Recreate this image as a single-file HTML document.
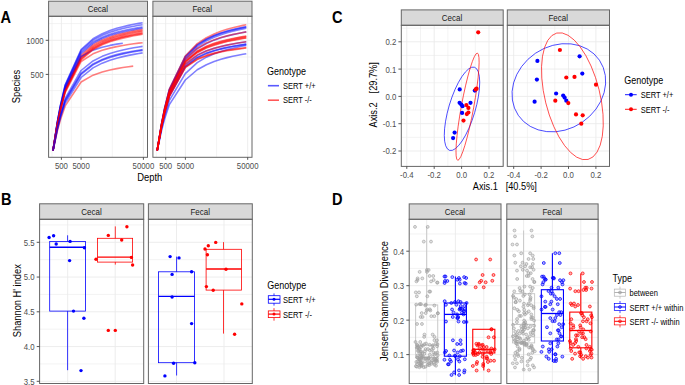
<!DOCTYPE html>
<html><head><meta charset="utf-8"><style>
html,body{margin:0;padding:0;background:#fff;width:685px;height:385px;overflow:hidden}
svg{display:block;font-family:"Liberation Sans",sans-serif}
</style></head><body>
<svg width="685" height="385" viewBox="0 0 685 385" font-family="Liberation Sans, sans-serif">
<rect width="685" height="385" fill="#fff"/>
<line x1="52" y1="16.3" x2="52" y2="157.3" stroke="#ebebeb" stroke-width="0.6" />
<line x1="71.3" y1="16.3" x2="71.3" y2="157.3" stroke="#ebebeb" stroke-width="0.6" />
<line x1="112.3" y1="16.3" x2="112.3" y2="157.3" stroke="#ebebeb" stroke-width="0.6" />
<line x1="61.4" y1="16.3" x2="61.4" y2="157.3" stroke="#ebebeb" stroke-width="0.9" />
<line x1="81.1" y1="16.3" x2="81.1" y2="157.3" stroke="#ebebeb" stroke-width="0.9" />
<line x1="143.4" y1="16.3" x2="143.4" y2="157.3" stroke="#ebebeb" stroke-width="0.9" />
<line x1="48.6" y1="23.6" x2="147.5" y2="23.6" stroke="#ebebeb" stroke-width="0.6" />
<line x1="48.6" y1="57" x2="147.5" y2="57" stroke="#ebebeb" stroke-width="0.6" />
<line x1="48.6" y1="90.6" x2="147.5" y2="90.6" stroke="#ebebeb" stroke-width="0.6" />
<line x1="48.6" y1="107.3" x2="147.5" y2="107.3" stroke="#ebebeb" stroke-width="0.6" />
<line x1="48.6" y1="40.3" x2="147.5" y2="40.3" stroke="#ebebeb" stroke-width="0.9" />
<line x1="48.6" y1="74.4" x2="147.5" y2="74.4" stroke="#ebebeb" stroke-width="0.9" />
<line x1="156.3" y1="16.3" x2="156.3" y2="157.3" stroke="#ebebeb" stroke-width="0.6" />
<line x1="175.6" y1="16.3" x2="175.6" y2="157.3" stroke="#ebebeb" stroke-width="0.6" />
<line x1="216.6" y1="16.3" x2="216.6" y2="157.3" stroke="#ebebeb" stroke-width="0.6" />
<line x1="165.7" y1="16.3" x2="165.7" y2="157.3" stroke="#ebebeb" stroke-width="0.9" />
<line x1="185.4" y1="16.3" x2="185.4" y2="157.3" stroke="#ebebeb" stroke-width="0.9" />
<line x1="247.7" y1="16.3" x2="247.7" y2="157.3" stroke="#ebebeb" stroke-width="0.9" />
<line x1="152.9" y1="23.6" x2="252" y2="23.6" stroke="#ebebeb" stroke-width="0.6" />
<line x1="152.9" y1="57" x2="252" y2="57" stroke="#ebebeb" stroke-width="0.6" />
<line x1="152.9" y1="90.6" x2="252" y2="90.6" stroke="#ebebeb" stroke-width="0.6" />
<line x1="152.9" y1="107.3" x2="252" y2="107.3" stroke="#ebebeb" stroke-width="0.6" />
<line x1="152.9" y1="40.3" x2="252" y2="40.3" stroke="#ebebeb" stroke-width="0.9" />
<line x1="152.9" y1="74.4" x2="252" y2="74.4" stroke="#ebebeb" stroke-width="0.9" />
<polyline points="53.00,150.50 57.28,122.24 60.44,105.15 65.18,84.78 81.10,49.50 93.04,38.77 102.20,33.67 109.92,30.53 116.72,28.34 122.87,26.68 128.53,25.36 133.79,24.28 138.73,23.36 142.60,22.70" fill="none" stroke="#0000ff" stroke-width="1.6" stroke-opacity="0.5" stroke-linejoin="round"/>
<polyline points="53.00,150.50 57.28,123.78 60.44,107.62 65.18,88.36 81.10,55.00 93.04,44.76 102.20,39.89 109.92,36.89 116.72,34.79 122.87,33.20 128.53,31.94 133.79,30.91 138.73,30.03 142.60,29.40" fill="none" stroke="#ff0000" stroke-width="1.6" stroke-opacity="0.5" stroke-linejoin="round"/>
<polyline points="53.00,150.50 57.28,122.52 60.44,105.60 65.18,85.43 81.10,50.50 93.04,40.15 102.20,35.24 109.92,32.23 116.72,30.12 122.87,28.53 128.53,27.26 133.79,26.22 138.73,25.33 142.60,24.70" fill="none" stroke="#0000ff" stroke-width="1.6" stroke-opacity="0.5" stroke-linejoin="round"/>
<polyline points="53.00,150.50 57.28,124.20 60.44,108.29 65.18,89.33 81.10,56.50 93.04,46.12 102.20,41.17 109.92,38.12 116.72,35.98 122.87,34.37 128.53,33.09 133.79,32.03 138.73,31.14 142.60,30.50" fill="none" stroke="#ff0000" stroke-width="1.6" stroke-opacity="0.5" stroke-linejoin="round"/>
<polyline points="53.00,150.50 57.28,122.94 60.44,106.27 65.18,86.41 81.10,52.00 93.04,41.96 102.20,37.21 109.92,34.29 116.72,32.25 122.87,30.70 128.53,29.48 133.79,28.47 138.73,27.61 142.60,27.00" fill="none" stroke="#0000ff" stroke-width="1.6" stroke-opacity="0.5" stroke-linejoin="round"/>
<polyline points="53.00,150.50 57.28,124.48 60.44,108.74 65.18,89.98 81.10,57.50 93.04,47.13 102.20,42.18 109.92,39.12 116.72,36.99 122.87,35.37 128.53,34.09 133.79,33.03 138.73,32.14 142.60,31.50" fill="none" stroke="#ff0000" stroke-width="1.6" stroke-opacity="0.5" stroke-linejoin="round"/>
<polyline points="53.00,150.50 57.28,123.36 60.44,106.95 65.18,87.38 81.10,53.50 93.04,43.36 102.20,38.55 109.92,35.59 116.72,33.52 122.87,31.95 128.53,30.71 133.79,29.69 138.73,28.82 142.60,28.20" fill="none" stroke="#0000ff" stroke-width="1.6" stroke-opacity="0.5" stroke-linejoin="round"/>
<polyline points="53.00,150.50 57.28,124.76 60.44,109.19 65.18,90.63 81.10,58.50 93.04,48.25 102.20,43.35 109.92,40.33 116.72,38.22 122.87,36.63 128.53,35.36 133.79,34.32 138.73,33.43 142.60,32.80" fill="none" stroke="#ff0000" stroke-width="1.6" stroke-opacity="0.5" stroke-linejoin="round"/>
<polyline points="53.00,150.50 57.28,124.20 60.44,108.29 65.18,89.33 81.10,56.50 93.04,50.13 102.20,47.21 109.92,45.41 116.72,44.15 122.80,43.20" fill="none" stroke="#0000ff" stroke-width="1.6" stroke-opacity="0.5" stroke-linejoin="round"/>
<polyline points="53.00,150.50 57.28,124.90 60.44,109.41 65.18,90.96 81.10,59.00 93.04,48.82 102.20,43.97 109.92,40.97 116.72,38.88 122.87,37.30 128.53,36.04 133.79,35.00 138.73,34.13 142.60,33.50" fill="none" stroke="#ff0000" stroke-width="1.6" stroke-opacity="0.5" stroke-linejoin="round"/>
<polyline points="53.00,150.50 57.28,128.11 60.44,114.57 65.18,98.43 81.10,70.50 93.04,60.94 102.20,56.34 109.92,53.50 116.72,51.51 122.87,50.00 128.53,48.81 133.79,47.83 138.73,47.00 142.60,46.40" fill="none" stroke="#0000ff" stroke-width="1.6" stroke-opacity="0.5" stroke-linejoin="round"/>
<polyline points="53.00,150.50 57.28,125.18 60.44,109.86 65.18,91.61 81.10,60.00 93.04,49.76 102.20,44.86 109.92,41.84 116.72,39.73 122.87,38.13 128.53,36.86 133.79,35.82 138.73,34.93 142.60,34.30" fill="none" stroke="#ff0000" stroke-width="1.6" stroke-opacity="0.5" stroke-linejoin="round"/>
<polyline points="53.00,150.50 57.28,128.89 60.44,115.83 65.18,100.25 81.10,73.30 93.04,63.91 102.20,59.39 109.92,56.59 116.72,54.63 122.87,53.15 128.53,51.97 133.79,51.01 138.73,50.19 142.60,49.60" fill="none" stroke="#0000ff" stroke-width="1.6" stroke-opacity="0.5" stroke-linejoin="round"/>
<polyline points="53.00,150.50 57.28,125.59 60.44,110.54 65.18,92.58 81.10,61.50 93.04,53.86 102.20,50.30 109.92,48.13 116.72,46.61 122.87,45.46 128.53,44.55 133.79,43.80 138.73,43.16 142.60,42.70" fill="none" stroke="#ff0000" stroke-width="1.6" stroke-opacity="0.5" stroke-linejoin="round"/>
<polyline points="53.00,150.50 57.28,129.17 60.44,116.28 65.18,100.90 81.10,74.30 93.04,64.85 102.20,60.28 109.92,57.46 116.72,55.48 122.87,53.98 128.53,52.80 133.79,51.82 138.73,50.99 142.60,50.40" fill="none" stroke="#0000ff" stroke-width="1.6" stroke-opacity="0.5" stroke-linejoin="round"/>
<polyline points="53.00,150.50 57.28,131.32 60.44,119.73 65.18,105.91 81.10,82.00 93.04,75.18 102.20,71.96 109.92,69.98 116.72,68.60 122.87,67.55 128.53,66.72 133.20,66.10" fill="none" stroke="#ff0000" stroke-width="1.6" stroke-opacity="0.5" stroke-linejoin="round"/>
<polyline points="53.00,150.50 57.28,130.07 60.44,117.71 65.18,102.98 81.10,77.50 93.04,67.84 102.20,63.13 109.92,60.21 116.72,58.16 122.87,56.61 128.53,55.38 133.79,54.37 138.73,53.51 142.60,52.90" fill="none" stroke="#0000ff" stroke-width="1.6" stroke-opacity="0.5" stroke-linejoin="round"/>
<polyline points="157.20,150.50 161.48,124.17 164.64,108.25 169.38,89.27 185.30,56.40 197.24,44.65 206.40,38.95 214.12,35.43 220.92,32.95 227.07,31.09 232.73,29.60 237.99,28.38 242.93,27.35 246.30,26.70" fill="none" stroke="#0000ff" stroke-width="1.6" stroke-opacity="0.5" stroke-linejoin="round"/>
<polyline points="157.20,150.50 161.48,124.34 164.64,108.52 169.38,89.66 185.30,57.00 197.24,45.15 206.40,39.39 214.12,35.83 220.92,33.33 227.07,31.44 232.73,29.93 237.99,28.70 242.93,27.66 246.30,27.00" fill="none" stroke="#0000ff" stroke-width="1.6" stroke-opacity="0.5" stroke-linejoin="round"/>
<polyline points="157.20,150.50 161.48,124.76 164.64,109.19 169.38,90.63 185.30,58.50 197.24,46.59 206.40,40.80 214.12,37.20 220.92,34.68 227.07,32.77 232.73,31.26 237.99,30.01 242.93,28.96 246.30,28.30" fill="none" stroke="#0000ff" stroke-width="1.6" stroke-opacity="0.5" stroke-linejoin="round"/>
<polyline points="157.20,150.50 161.48,125.18 164.64,109.86 169.38,91.61 185.30,60.00 197.24,48.86 206.40,43.48 214.12,40.14 220.92,37.81 227.07,36.04 232.73,34.64 237.99,33.49 242.93,32.51 246.30,31.90" fill="none" stroke="#0000ff" stroke-width="1.6" stroke-opacity="0.5" stroke-linejoin="round"/>
<polyline points="157.20,150.50 161.48,126.29 164.64,111.66 169.38,94.21 185.30,64.00 197.24,55.06 206.40,50.83 214.12,48.23 220.92,46.41 227.07,45.03 232.73,43.94 237.99,43.04 242.93,42.28 246.30,41.80" fill="none" stroke="#0000ff" stroke-width="1.6" stroke-opacity="0.5" stroke-linejoin="round"/>
<polyline points="157.20,150.50 161.48,126.85 164.64,112.55 169.38,95.50 185.30,66.00 197.24,57.18 206.40,53.01 214.12,50.44 220.92,48.65 227.07,47.29 232.73,46.21 237.99,45.32 242.93,44.57 246.30,44.10" fill="none" stroke="#0000ff" stroke-width="1.6" stroke-opacity="0.5" stroke-linejoin="round"/>
<polyline points="157.20,150.50 161.48,127.13 164.64,113.00 169.38,96.16 185.30,67.00 197.24,57.93 206.40,53.62 214.12,50.96 220.92,49.10 227.07,47.70 232.73,46.58 237.99,45.67 242.93,44.89 246.30,44.40" fill="none" stroke="#0000ff" stroke-width="1.6" stroke-opacity="0.5" stroke-linejoin="round"/>
<polyline points="157.20,150.50 161.48,128.98 164.64,115.96 169.38,100.44 185.30,73.60 197.24,62.59 206.40,57.17 214.12,53.79 220.92,51.41 227.07,49.62 232.73,48.19 237.99,47.01 242.93,46.02 246.30,45.40" fill="none" stroke="#0000ff" stroke-width="1.6" stroke-opacity="0.5" stroke-linejoin="round"/>
<polyline points="157.20,150.50 161.48,130.77 164.64,118.83 169.38,104.61 185.30,80.00 197.24,69.75 206.40,64.69 214.12,61.54 220.92,59.32 227.07,57.64 232.73,56.30 237.99,55.21 242.93,54.28 246.30,53.70" fill="none" stroke="#0000ff" stroke-width="1.6" stroke-opacity="0.5" stroke-linejoin="round"/>
<polyline points="157.20,150.50 161.48,124.06 164.64,108.07 169.38,89.00 185.30,56.00 197.24,43.67 206.40,37.67 214.12,33.94 220.92,31.32 227.07,29.34 232.73,27.77 237.99,26.48 242.93,25.39 246.30,24.70" fill="none" stroke="#ff0000" stroke-width="1.6" stroke-opacity="0.5" stroke-linejoin="round"/>
<polyline points="157.20,150.50 161.48,124.90 164.64,109.41 169.38,90.96 185.30,59.00 197.24,48.21 206.40,43.03 214.12,39.82 220.92,37.58 227.07,35.88 232.73,34.53 237.99,33.43 242.93,32.49 246.30,31.90" fill="none" stroke="#ff0000" stroke-width="1.6" stroke-opacity="0.5" stroke-linejoin="round"/>
<polyline points="157.20,150.50 161.48,125.45 164.64,110.31 169.38,92.25 185.30,61.00 197.24,51.03 206.40,46.28 214.12,43.35 220.92,41.29 227.07,39.74 232.73,38.51 237.99,37.50 242.93,36.64 246.30,36.10" fill="none" stroke="#ff0000" stroke-width="1.6" stroke-opacity="0.5" stroke-linejoin="round"/>
<polyline points="157.20,150.50 161.48,125.59 164.64,110.54 169.38,92.58 185.30,61.50 197.24,51.50 206.40,46.73 214.12,43.78 220.92,41.72 227.07,40.16 232.73,38.92 237.99,37.90 242.93,37.04 246.30,36.50" fill="none" stroke="#ff0000" stroke-width="1.6" stroke-opacity="0.5" stroke-linejoin="round"/>
<polyline points="157.20,150.50 161.48,125.73 164.64,110.76 169.38,92.91 185.30,62.00 197.24,52.23 206.40,47.57 214.12,44.70 220.92,42.69 227.07,41.17 232.73,39.96 237.99,38.97 242.93,38.13 246.30,37.60" fill="none" stroke="#ff0000" stroke-width="1.6" stroke-opacity="0.5" stroke-linejoin="round"/>
<polyline points="157.20,150.50 161.48,125.87 164.64,110.98 169.38,93.23 185.30,62.50 197.24,52.69 206.40,48.01 214.12,45.13 220.92,43.11 227.07,41.58 232.73,40.37 237.99,39.37 242.93,38.53 246.30,38.00" fill="none" stroke="#ff0000" stroke-width="1.6" stroke-opacity="0.5" stroke-linejoin="round"/>
<polyline points="157.20,150.50 161.48,126.43 164.64,111.88 169.38,94.53 185.30,64.50 197.24,55.38 206.40,51.05 214.12,48.38 220.92,46.52 227.07,45.11 232.73,43.99 237.99,43.07 242.93,42.29 246.30,41.80" fill="none" stroke="#ff0000" stroke-width="1.6" stroke-opacity="0.5" stroke-linejoin="round"/>
<polyline points="157.20,150.50 161.48,127.13 164.64,113.00 169.38,96.16 185.30,67.00 197.24,59.09 206.40,55.39 214.12,53.12 220.92,51.53 227.07,50.33 232.73,49.37 237.99,48.59 242.93,47.92 246.30,47.50" fill="none" stroke="#ff0000" stroke-width="1.6" stroke-opacity="0.5" stroke-linejoin="round"/>
<polyline points="157.20,150.50 161.48,127.27 164.64,113.23 169.38,96.48 185.30,67.50 197.24,59.60 206.40,55.89 214.12,53.62 220.92,52.03 227.07,50.83 232.73,49.87 237.99,49.09 242.93,48.42 246.30,48.00" fill="none" stroke="#ff0000" stroke-width="1.6" stroke-opacity="0.5" stroke-linejoin="round"/>
<rect x="48.6" y="1.2" width="98.9" height="15.1" fill="#d9d9d9" stroke="#666666" stroke-width="1" />
<text x="0" y="0" font-size="8" fill="#1a1a1a" text-anchor="middle" transform="translate(97.85 12.4) scale(1 1.16)" >Cecal</text>
<rect x="48.6" y="16.3" width="98.9" height="141" fill="none" stroke="#666666" stroke-width="1" />
<line x1="61.4" y1="157.3" x2="61.4" y2="159.8" stroke="#444444" stroke-width="0.9" />
<text x="0" y="0" font-size="7.8" fill="#4d4d4d" text-anchor="middle" transform="translate(61.4 168.6) scale(1 1.16)" >500</text>
<line x1="81.1" y1="157.3" x2="81.1" y2="159.8" stroke="#444444" stroke-width="0.9" />
<text x="0" y="0" font-size="7.8" fill="#4d4d4d" text-anchor="middle" transform="translate(81.1 168.6) scale(1 1.16)" >5000</text>
<line x1="143.4" y1="157.3" x2="143.4" y2="159.8" stroke="#444444" stroke-width="0.9" />
<text x="0" y="0" font-size="7.8" fill="#4d4d4d" text-anchor="middle" transform="translate(143.4 168.6) scale(1 1.16)" >50000</text>
<rect x="152.9" y="1.2" width="99.1" height="15.1" fill="#d9d9d9" stroke="#666666" stroke-width="1" />
<text x="0" y="0" font-size="8" fill="#1a1a1a" text-anchor="middle" transform="translate(202.25 12.4) scale(1 1.16)" >Fecal</text>
<rect x="152.9" y="16.3" width="99.1" height="141" fill="none" stroke="#666666" stroke-width="1" />
<line x1="165.7" y1="157.3" x2="165.7" y2="159.8" stroke="#444444" stroke-width="0.9" />
<text x="0" y="0" font-size="7.8" fill="#4d4d4d" text-anchor="middle" transform="translate(165.7 168.6) scale(1 1.16)" >500</text>
<line x1="185.4" y1="157.3" x2="185.4" y2="159.8" stroke="#444444" stroke-width="0.9" />
<text x="0" y="0" font-size="7.8" fill="#4d4d4d" text-anchor="middle" transform="translate(185.4 168.6) scale(1 1.16)" >5000</text>
<line x1="247.7" y1="157.3" x2="247.7" y2="159.8" stroke="#444444" stroke-width="0.9" />
<text x="0" y="0" font-size="7.8" fill="#4d4d4d" text-anchor="middle" transform="translate(247.7 168.6) scale(1 1.16)" >50000</text>
<line x1="45.7" y1="40.3" x2="48.6" y2="40.3" stroke="#444444" stroke-width="0.9" />
<text x="0" y="0" font-size="7.8" fill="#4d4d4d" text-anchor="end" transform="translate(43.6 43.7) scale(1 1.16)" >1000</text>
<line x1="45.7" y1="74.4" x2="48.6" y2="74.4" stroke="#444444" stroke-width="0.9" />
<text x="0" y="0" font-size="7.8" fill="#4d4d4d" text-anchor="end" transform="translate(43.6 77.8) scale(1 1.16)" >500</text>
<text x="0" y="0" font-size="9.4" fill="#000" text-anchor="middle" transform="translate(149.8 180.6) scale(1 1.16)" >Depth</text>
<text x="0" y="0" font-size="9.4" fill="#000" text-anchor="middle" transform="translate(20.2 86.6) rotate(-90) scale(1 1.16)" >Species</text>
<text x="0" y="0" font-size="14.6" fill="#000" text-anchor="start" font-weight="bold" transform="translate(0.4 23) scale(1 1.07)" >A</text>
<text x="0" y="0" font-size="9" fill="#000" text-anchor="start" transform="translate(267 74.7) scale(1 1.16)" >Genotype</text>
<line x1="267.9" y1="85.7" x2="279" y2="85.7" stroke="#0000ff" stroke-width="1.6" stroke-opacity="0.65" />
<line x1="267.9" y1="100.2" x2="279" y2="100.2" stroke="#ff0000" stroke-width="1.6" stroke-opacity="0.65" />
<text x="0" y="0" font-size="7.5" fill="#000" text-anchor="start" transform="translate(283 88.8) scale(1 1.16)" >SERT +/+</text>
<text x="0" y="0" font-size="7.5" fill="#000" text-anchor="start" transform="translate(283 103.4) scale(1 1.16)" >SERT -/-</text>
<line x1="420.5" y1="25.3" x2="420.5" y2="166.4" stroke="#ebebeb" stroke-width="0.6" />
<line x1="447.9" y1="25.3" x2="447.9" y2="166.4" stroke="#ebebeb" stroke-width="0.6" />
<line x1="475.3" y1="25.3" x2="475.3" y2="166.4" stroke="#ebebeb" stroke-width="0.6" />
<line x1="502.7" y1="25.3" x2="502.7" y2="166.4" stroke="#ebebeb" stroke-width="0.6" />
<line x1="406.8" y1="25.3" x2="406.8" y2="166.4" stroke="#ebebeb" stroke-width="0.9" />
<line x1="434.2" y1="25.3" x2="434.2" y2="166.4" stroke="#ebebeb" stroke-width="0.9" />
<line x1="461.6" y1="25.3" x2="461.6" y2="166.4" stroke="#ebebeb" stroke-width="0.9" />
<line x1="489" y1="25.3" x2="489" y2="166.4" stroke="#ebebeb" stroke-width="0.9" />
<line x1="401.3" y1="28.15" x2="503.2" y2="28.15" stroke="#ebebeb" stroke-width="0.6" />
<line x1="401.3" y1="55.45" x2="503.2" y2="55.45" stroke="#ebebeb" stroke-width="0.6" />
<line x1="401.3" y1="82.75" x2="503.2" y2="82.75" stroke="#ebebeb" stroke-width="0.6" />
<line x1="401.3" y1="110.05" x2="503.2" y2="110.05" stroke="#ebebeb" stroke-width="0.6" />
<line x1="401.3" y1="137.35" x2="503.2" y2="137.35" stroke="#ebebeb" stroke-width="0.6" />
<line x1="401.3" y1="41.8" x2="503.2" y2="41.8" stroke="#ebebeb" stroke-width="0.9" />
<line x1="401.3" y1="69.1" x2="503.2" y2="69.1" stroke="#ebebeb" stroke-width="0.9" />
<line x1="401.3" y1="96.4" x2="503.2" y2="96.4" stroke="#ebebeb" stroke-width="0.9" />
<line x1="401.3" y1="123.7" x2="503.2" y2="123.7" stroke="#ebebeb" stroke-width="0.9" />
<line x1="401.3" y1="151" x2="503.2" y2="151" stroke="#ebebeb" stroke-width="0.9" />
<line x1="527.4" y1="25.3" x2="527.4" y2="166.4" stroke="#ebebeb" stroke-width="0.6" />
<line x1="554.8" y1="25.3" x2="554.8" y2="166.4" stroke="#ebebeb" stroke-width="0.6" />
<line x1="582.2" y1="25.3" x2="582.2" y2="166.4" stroke="#ebebeb" stroke-width="0.6" />
<line x1="513.7" y1="25.3" x2="513.7" y2="166.4" stroke="#ebebeb" stroke-width="0.9" />
<line x1="541.1" y1="25.3" x2="541.1" y2="166.4" stroke="#ebebeb" stroke-width="0.9" />
<line x1="568.5" y1="25.3" x2="568.5" y2="166.4" stroke="#ebebeb" stroke-width="0.9" />
<line x1="595.9" y1="25.3" x2="595.9" y2="166.4" stroke="#ebebeb" stroke-width="0.9" />
<line x1="507.3" y1="28.15" x2="609.5" y2="28.15" stroke="#ebebeb" stroke-width="0.6" />
<line x1="507.3" y1="55.45" x2="609.5" y2="55.45" stroke="#ebebeb" stroke-width="0.6" />
<line x1="507.3" y1="82.75" x2="609.5" y2="82.75" stroke="#ebebeb" stroke-width="0.6" />
<line x1="507.3" y1="110.05" x2="609.5" y2="110.05" stroke="#ebebeb" stroke-width="0.6" />
<line x1="507.3" y1="137.35" x2="609.5" y2="137.35" stroke="#ebebeb" stroke-width="0.6" />
<line x1="507.3" y1="41.8" x2="609.5" y2="41.8" stroke="#ebebeb" stroke-width="0.9" />
<line x1="507.3" y1="69.1" x2="609.5" y2="69.1" stroke="#ebebeb" stroke-width="0.9" />
<line x1="507.3" y1="96.4" x2="609.5" y2="96.4" stroke="#ebebeb" stroke-width="0.9" />
<line x1="507.3" y1="123.7" x2="609.5" y2="123.7" stroke="#ebebeb" stroke-width="0.9" />
<line x1="507.3" y1="151" x2="609.5" y2="151" stroke="#ebebeb" stroke-width="0.9" />
<g fill="none" stroke-width="0.85" stroke-opacity="0.75">
<ellipse cx="462" cy="108.8" rx="43.4" ry="13.2" transform="rotate(-73.4 462 108.8)" stroke="#0000ff"/>
<ellipse cx="467.55" cy="106.7" rx="54.5" ry="6.19" transform="rotate(-79.6 467.55 106.7)" stroke="#ff0000"/>
<ellipse cx="558.85" cy="87.75" rx="49.06" ry="41.68" transform="rotate(-34.2 558.85 87.75)" stroke="#0000ff"/>
<ellipse cx="572.4" cy="96.25" rx="65.1" ry="27.45" transform="rotate(76.1 572.4 96.25)" stroke="#ff0000"/>
</g>
<circle cx="459.70" cy="89.40" r="2.1" fill="#0000ff" />
<circle cx="474.80" cy="90.60" r="2.1" fill="#0000ff" />
<circle cx="459.60" cy="102.80" r="2.1" fill="#0000ff" />
<circle cx="461.30" cy="104.50" r="2.1" fill="#0000ff" />
<circle cx="462.50" cy="106.20" r="2.1" fill="#0000ff" />
<circle cx="470.50" cy="102.80" r="2.1" fill="#0000ff" />
<circle cx="462.10" cy="112.90" r="2.1" fill="#0000ff" />
<circle cx="454.60" cy="132.60" r="2.1" fill="#0000ff" />
<circle cx="453.10" cy="138.10" r="2.1" fill="#0000ff" />
<circle cx="537.40" cy="60.90" r="2.1" fill="#0000ff" />
<circle cx="536.90" cy="79.60" r="2.1" fill="#0000ff" />
<circle cx="579.60" cy="56.30" r="2.1" fill="#0000ff" />
<circle cx="582.30" cy="73.60" r="2.1" fill="#0000ff" />
<circle cx="534.60" cy="101.70" r="2.1" fill="#0000ff" />
<circle cx="556.10" cy="93.50" r="2.1" fill="#0000ff" />
<circle cx="563.20" cy="95.50" r="2.1" fill="#0000ff" />
<circle cx="564.60" cy="97.60" r="2.1" fill="#0000ff" />
<circle cx="566.30" cy="100.70" r="2.1" fill="#0000ff" />
<circle cx="478.20" cy="32.30" r="2.1" fill="#ff0000" />
<circle cx="475.70" cy="89.40" r="2.1" fill="#ff0000" />
<circle cx="476.60" cy="88.70" r="2.1" fill="#ff0000" />
<circle cx="466.40" cy="105.10" r="2.1" fill="#ff0000" />
<circle cx="468.40" cy="107.90" r="2.1" fill="#ff0000" />
<circle cx="468.40" cy="112.50" r="2.1" fill="#ff0000" />
<circle cx="466.80" cy="114.10" r="2.1" fill="#ff0000" />
<circle cx="463.50" cy="120.60" r="2.1" fill="#ff0000" />
<circle cx="559.90" cy="50.00" r="2.1" fill="#ff0000" />
<circle cx="566.30" cy="77.50" r="2.1" fill="#ff0000" />
<circle cx="574.50" cy="76.90" r="2.1" fill="#ff0000" />
<circle cx="596.00" cy="84.70" r="2.1" fill="#ff0000" />
<circle cx="555.30" cy="100.70" r="2.1" fill="#ff0000" />
<circle cx="568.30" cy="103.10" r="2.1" fill="#ff0000" />
<circle cx="576.00" cy="114.40" r="2.1" fill="#ff0000" />
<circle cx="582.70" cy="115.30" r="2.1" fill="#ff0000" />
<circle cx="581.30" cy="123.70" r="2.1" fill="#ff0000" />
<rect x="401.3" y="9.9" width="101.9" height="15.4" fill="#d9d9d9" stroke="#666666" stroke-width="1" />
<text x="0" y="0" font-size="8" fill="#1a1a1a" text-anchor="middle" transform="translate(452.05 21.1) scale(1 1.16)" >Cecal</text>
<rect x="401.3" y="25.3" width="101.9" height="141.1" fill="none" stroke="#666666" stroke-width="1" />
<line x1="406.8" y1="166.4" x2="406.8" y2="168.9" stroke="#444444" stroke-width="0.9" />
<text x="0" y="0" font-size="7.8" fill="#4d4d4d" text-anchor="middle" transform="translate(406.8 177.7) scale(1 1.16)" >-0.4</text>
<line x1="434.2" y1="166.4" x2="434.2" y2="168.9" stroke="#444444" stroke-width="0.9" />
<text x="0" y="0" font-size="7.8" fill="#4d4d4d" text-anchor="middle" transform="translate(434.2 177.7) scale(1 1.16)" >-0.2</text>
<line x1="461.6" y1="166.4" x2="461.6" y2="168.9" stroke="#444444" stroke-width="0.9" />
<text x="0" y="0" font-size="7.8" fill="#4d4d4d" text-anchor="middle" transform="translate(461.6 177.7) scale(1 1.16)" >0.0</text>
<line x1="489" y1="166.4" x2="489" y2="168.9" stroke="#444444" stroke-width="0.9" />
<text x="0" y="0" font-size="7.8" fill="#4d4d4d" text-anchor="middle" transform="translate(489 177.7) scale(1 1.16)" >0.2</text>
<rect x="507.3" y="9.9" width="102.2" height="15.4" fill="#d9d9d9" stroke="#666666" stroke-width="1" />
<text x="0" y="0" font-size="8" fill="#1a1a1a" text-anchor="middle" transform="translate(558.2 21.1) scale(1 1.16)" >Fecal</text>
<rect x="507.3" y="25.3" width="102.2" height="141.1" fill="none" stroke="#666666" stroke-width="1" />
<line x1="513.7" y1="166.4" x2="513.7" y2="168.9" stroke="#444444" stroke-width="0.9" />
<text x="0" y="0" font-size="7.8" fill="#4d4d4d" text-anchor="middle" transform="translate(513.7 177.7) scale(1 1.16)" >-0.4</text>
<line x1="541.1" y1="166.4" x2="541.1" y2="168.9" stroke="#444444" stroke-width="0.9" />
<text x="0" y="0" font-size="7.8" fill="#4d4d4d" text-anchor="middle" transform="translate(541.1 177.7) scale(1 1.16)" >-0.2</text>
<line x1="568.5" y1="166.4" x2="568.5" y2="168.9" stroke="#444444" stroke-width="0.9" />
<text x="0" y="0" font-size="7.8" fill="#4d4d4d" text-anchor="middle" transform="translate(568.5 177.7) scale(1 1.16)" >0.0</text>
<line x1="595.9" y1="166.4" x2="595.9" y2="168.9" stroke="#444444" stroke-width="0.9" />
<text x="0" y="0" font-size="7.8" fill="#4d4d4d" text-anchor="middle" transform="translate(595.9 177.7) scale(1 1.16)" >0.2</text>
<line x1="398.4" y1="41.8" x2="401.3" y2="41.8" stroke="#444444" stroke-width="0.9" />
<text x="0" y="0" font-size="7.8" fill="#4d4d4d" text-anchor="end" transform="translate(396.3 45.2) scale(1 1.16)" >0.2</text>
<line x1="398.4" y1="69.1" x2="401.3" y2="69.1" stroke="#444444" stroke-width="0.9" />
<text x="0" y="0" font-size="7.8" fill="#4d4d4d" text-anchor="end" transform="translate(396.3 72.5) scale(1 1.16)" >0.1</text>
<line x1="398.4" y1="96.4" x2="401.3" y2="96.4" stroke="#444444" stroke-width="0.9" />
<text x="0" y="0" font-size="7.8" fill="#4d4d4d" text-anchor="end" transform="translate(396.3 99.8) scale(1 1.16)" >0.0</text>
<line x1="398.4" y1="123.7" x2="401.3" y2="123.7" stroke="#444444" stroke-width="0.9" />
<text x="0" y="0" font-size="7.8" fill="#4d4d4d" text-anchor="end" transform="translate(396.3 127.1) scale(1 1.16)" >-0.1</text>
<line x1="398.4" y1="151" x2="401.3" y2="151" stroke="#444444" stroke-width="0.9" />
<text x="0" y="0" font-size="7.8" fill="#4d4d4d" text-anchor="end" transform="translate(396.3 154.4) scale(1 1.16)" >-0.2</text>
<text x="0" y="0" font-size="9.2" fill="#000" text-anchor="start" transform="translate(472.8 189.9) scale(1 1.16)" >Axis.1</text>
<text x="0" y="0" font-size="9.2" fill="#000" text-anchor="start" transform="translate(505.7 189.9) scale(1 1.16)" >[40.5%]</text>
<text x="0" y="0" font-size="9.2" fill="#000" text-anchor="start" transform="translate(377.2 127.4) rotate(-90) scale(1 1.16)" >Axis.2</text>
<text x="0" y="0" font-size="9.2" fill="#000" text-anchor="start" transform="translate(377.2 93.4) rotate(-90) scale(1 1.16)" >[29.7%]</text>
<text x="0" y="0" font-size="14.6" fill="#000" text-anchor="start" font-weight="bold" transform="translate(331.9 23.1) scale(1 1.07)" >C</text>
<text x="0" y="0" font-size="9" fill="#000" text-anchor="start" transform="translate(624.3 83.6) scale(1 1.16)" >Genotype</text>
<line x1="625" y1="94.7" x2="636.7" y2="94.7" stroke="#0000ff" stroke-width="0.9" />
<circle cx="631" cy="94.7" r="2" fill="#0000ff"/>
<line x1="625" y1="109.3" x2="636.7" y2="109.3" stroke="#ff0000" stroke-width="0.9" />
<circle cx="631" cy="109.3" r="2" fill="#ff0000"/>
<text x="0" y="0" font-size="7.5" fill="#000" text-anchor="start" transform="translate(640.7 97.9) scale(1 1.16)" >SERT +/+</text>
<text x="0" y="0" font-size="7.5" fill="#000" text-anchor="start" transform="translate(640.7 112.5) scale(1 1.16)" >SERT -/-</text>
<line x1="67.7" y1="219.3" x2="67.7" y2="383.5" stroke="#ebebeb" stroke-width="0.9" />
<line x1="115.2" y1="219.3" x2="115.2" y2="383.5" stroke="#ebebeb" stroke-width="0.9" />
<line x1="39.6" y1="224.93" x2="143.7" y2="224.93" stroke="#ebebeb" stroke-width="0.6" />
<line x1="39.6" y1="259.68" x2="143.7" y2="259.68" stroke="#ebebeb" stroke-width="0.6" />
<line x1="39.6" y1="294.43" x2="143.7" y2="294.43" stroke="#ebebeb" stroke-width="0.6" />
<line x1="39.6" y1="329.18" x2="143.7" y2="329.18" stroke="#ebebeb" stroke-width="0.6" />
<line x1="39.6" y1="363.93" x2="143.7" y2="363.93" stroke="#ebebeb" stroke-width="0.6" />
<line x1="39.6" y1="242.3" x2="143.7" y2="242.3" stroke="#ebebeb" stroke-width="0.9" />
<line x1="39.6" y1="277.05" x2="143.7" y2="277.05" stroke="#ebebeb" stroke-width="0.9" />
<line x1="39.6" y1="311.8" x2="143.7" y2="311.8" stroke="#ebebeb" stroke-width="0.9" />
<line x1="39.6" y1="346.55" x2="143.7" y2="346.55" stroke="#ebebeb" stroke-width="0.9" />
<line x1="39.6" y1="381.3" x2="143.7" y2="381.3" stroke="#ebebeb" stroke-width="0.9" />
<line x1="176.5" y1="219.3" x2="176.5" y2="383.5" stroke="#ebebeb" stroke-width="0.9" />
<line x1="224" y1="219.3" x2="224" y2="383.5" stroke="#ebebeb" stroke-width="0.9" />
<line x1="148.4" y1="224.93" x2="252.3" y2="224.93" stroke="#ebebeb" stroke-width="0.6" />
<line x1="148.4" y1="259.68" x2="252.3" y2="259.68" stroke="#ebebeb" stroke-width="0.6" />
<line x1="148.4" y1="294.43" x2="252.3" y2="294.43" stroke="#ebebeb" stroke-width="0.6" />
<line x1="148.4" y1="329.18" x2="252.3" y2="329.18" stroke="#ebebeb" stroke-width="0.6" />
<line x1="148.4" y1="363.93" x2="252.3" y2="363.93" stroke="#ebebeb" stroke-width="0.6" />
<line x1="148.4" y1="242.3" x2="252.3" y2="242.3" stroke="#ebebeb" stroke-width="0.9" />
<line x1="148.4" y1="277.05" x2="252.3" y2="277.05" stroke="#ebebeb" stroke-width="0.9" />
<line x1="148.4" y1="311.8" x2="252.3" y2="311.8" stroke="#ebebeb" stroke-width="0.9" />
<line x1="148.4" y1="346.55" x2="252.3" y2="346.55" stroke="#ebebeb" stroke-width="0.9" />
<line x1="148.4" y1="381.3" x2="252.3" y2="381.3" stroke="#ebebeb" stroke-width="0.9" />
<g stroke="#0000ff" fill="none">
<line x1="67.60" y1="235.30" x2="67.60" y2="241.40" stroke-width="0.8"/>
<line x1="67.60" y1="311.10" x2="67.60" y2="370.20" stroke-width="0.8"/>
<rect x="49.70" y="241.40" width="35.80" height="69.70" stroke-width="0.8"/>
<line x1="49.70" y1="247.30" x2="85.50" y2="247.30" stroke-width="1.4"/>
</g>
<g stroke="#ff0000" fill="none">
<line x1="115.30" y1="226.40" x2="115.30" y2="238.30" stroke-width="0.8"/>
<line x1="115.30" y1="262.10" x2="115.30" y2="264.60" stroke-width="0.8"/>
<rect x="97.40" y="238.30" width="35.20" height="23.80" stroke-width="0.8"/>
<line x1="97.40" y1="257.10" x2="132.60" y2="257.10" stroke-width="1.4"/>
</g>
<g stroke="#0000ff" fill="none">
<line x1="176.60" y1="256.60" x2="176.60" y2="271.80" stroke-width="0.8"/>
<line x1="176.60" y1="362.70" x2="176.60" y2="375.50" stroke-width="0.8"/>
<rect x="158.40" y="271.80" width="36.10" height="90.90" stroke-width="0.8"/>
<line x1="158.40" y1="296.40" x2="194.50" y2="296.40" stroke-width="1.4"/>
</g>
<g stroke="#ff0000" fill="none">
<line x1="223.50" y1="242.10" x2="223.50" y2="249.30" stroke-width="0.8"/>
<line x1="223.50" y1="290.10" x2="223.50" y2="333.60" stroke-width="0.8"/>
<rect x="206.10" y="249.30" width="35.30" height="40.80" stroke-width="0.8"/>
<line x1="206.10" y1="269.00" x2="241.40" y2="269.00" stroke-width="1.4"/>
</g>
<circle cx="49.10" cy="237.50" r="1.7" fill="#0000ff" />
<circle cx="53.60" cy="235.80" r="1.7" fill="#0000ff" />
<circle cx="56.20" cy="244.00" r="1.7" fill="#0000ff" />
<circle cx="70.10" cy="241.40" r="1.7" fill="#0000ff" />
<circle cx="84.40" cy="247.70" r="1.7" fill="#0000ff" />
<circle cx="69.60" cy="260.60" r="1.7" fill="#0000ff" />
<circle cx="73.50" cy="311.10" r="1.7" fill="#0000ff" />
<circle cx="83.90" cy="318.30" r="1.7" fill="#0000ff" />
<circle cx="81.00" cy="370.60" r="1.7" fill="#0000ff" />
<circle cx="170.10" cy="256.60" r="1.7" fill="#0000ff" />
<circle cx="179.00" cy="257.90" r="1.7" fill="#0000ff" />
<circle cx="172.10" cy="274.40" r="1.7" fill="#0000ff" />
<circle cx="191.60" cy="271.80" r="1.7" fill="#0000ff" />
<circle cx="172.10" cy="297.00" r="1.7" fill="#0000ff" />
<circle cx="191.60" cy="323.60" r="1.7" fill="#0000ff" />
<circle cx="173.60" cy="363.30" r="1.7" fill="#0000ff" />
<circle cx="194.80" cy="362.70" r="1.7" fill="#0000ff" />
<circle cx="164.90" cy="375.90" r="1.7" fill="#0000ff" />
<circle cx="108.30" cy="235.40" r="1.7" fill="#ff0000" />
<circle cx="126.90" cy="226.70" r="1.7" fill="#ff0000" />
<circle cx="121.70" cy="240.00" r="1.7" fill="#ff0000" />
<circle cx="96.00" cy="259.30" r="1.7" fill="#ff0000" />
<circle cx="131.40" cy="257.40" r="1.7" fill="#ff0000" />
<circle cx="132.60" cy="265.00" r="1.7" fill="#ff0000" />
<circle cx="108.30" cy="330.40" r="1.7" fill="#ff0000" />
<circle cx="115.30" cy="330.40" r="1.7" fill="#ff0000" />
<circle cx="215.70" cy="242.40" r="1.7" fill="#ff0000" />
<circle cx="208.30" cy="245.70" r="1.7" fill="#ff0000" />
<circle cx="205.00" cy="249.00" r="1.7" fill="#ff0000" />
<circle cx="207.40" cy="254.70" r="1.7" fill="#ff0000" />
<circle cx="226.00" cy="269.30" r="1.7" fill="#ff0000" />
<circle cx="206.40" cy="286.60" r="1.7" fill="#ff0000" />
<circle cx="213.20" cy="290.30" r="1.7" fill="#ff0000" />
<circle cx="241.80" cy="303.90" r="1.7" fill="#ff0000" />
<circle cx="234.60" cy="334.30" r="1.7" fill="#ff0000" />
<rect x="39.6" y="203.8" width="104.1" height="15.5" fill="#d9d9d9" stroke="#666666" stroke-width="1" />
<text x="0" y="0" font-size="8" fill="#1a1a1a" text-anchor="middle" transform="translate(91.45 215) scale(1 1.16)" >Cecal</text>
<rect x="39.6" y="219.3" width="104.1" height="164.2" fill="none" stroke="#666666" stroke-width="1" />
<rect x="148.4" y="203.8" width="103.9" height="15.5" fill="#d9d9d9" stroke="#666666" stroke-width="1" />
<text x="0" y="0" font-size="8" fill="#1a1a1a" text-anchor="middle" transform="translate(200.15 215) scale(1 1.16)" >Fecal</text>
<rect x="148.4" y="219.3" width="103.9" height="164.2" fill="none" stroke="#666666" stroke-width="1" />
<line x1="36.7" y1="242.3" x2="39.6" y2="242.3" stroke="#444444" stroke-width="0.9" />
<text x="0" y="0" font-size="7.8" fill="#4d4d4d" text-anchor="end" transform="translate(34.6 245.7) scale(1 1.16)" >5.5</text>
<line x1="36.7" y1="277.05" x2="39.6" y2="277.05" stroke="#444444" stroke-width="0.9" />
<text x="0" y="0" font-size="7.8" fill="#4d4d4d" text-anchor="end" transform="translate(34.6 280.45) scale(1 1.16)" >5.0</text>
<line x1="36.7" y1="311.8" x2="39.6" y2="311.8" stroke="#444444" stroke-width="0.9" />
<text x="0" y="0" font-size="7.8" fill="#4d4d4d" text-anchor="end" transform="translate(34.6 315.2) scale(1 1.16)" >4.5</text>
<line x1="36.7" y1="346.55" x2="39.6" y2="346.55" stroke="#444444" stroke-width="0.9" />
<text x="0" y="0" font-size="7.8" fill="#4d4d4d" text-anchor="end" transform="translate(34.6 349.95) scale(1 1.16)" >4.0</text>
<line x1="36.7" y1="381.3" x2="39.6" y2="381.3" stroke="#444444" stroke-width="0.9" />
<text x="0" y="0" font-size="7.8" fill="#4d4d4d" text-anchor="end" transform="translate(34.6 384.7) scale(1 1.16)" >3.5</text>
<text x="0" y="0" font-size="9.3" fill="#000" text-anchor="middle" transform="translate(20.6 300.7) rotate(-90) scale(1 1.16)" >Shannon H' index</text>
<text x="0" y="0" font-size="14.6" fill="#000" text-anchor="start" font-weight="bold" transform="translate(0.9 205.2) scale(1 1.07)" >B</text>
<text x="0" y="0" font-size="9" fill="#000" text-anchor="start" transform="translate(267.2 288.7) scale(1 1.16)" >Genotype</text>
<g stroke="#0000ff" fill="none">
<line x1="274.00" y1="293.40" x2="274.00" y2="295.70" stroke-width="0.8"/>
<line x1="274.00" y1="303.20" x2="274.00" y2="305.60" stroke-width="0.8"/>
<rect x="268.30" y="295.70" width="11.70" height="7.50" stroke-width="0.8"/>
<line x1="268.30" y1="299.30" x2="280.00" y2="299.30" stroke-width="1.2"/>
</g>
<circle cx="274.00" cy="299.30" r="1.5" fill="#0000ff" />
<g stroke="#ff0000" fill="none">
<line x1="274.00" y1="308.20" x2="274.00" y2="310.90" stroke-width="0.8"/>
<line x1="274.00" y1="317.60" x2="274.00" y2="320.70" stroke-width="0.8"/>
<rect x="268.30" y="310.90" width="11.70" height="6.70" stroke-width="0.8"/>
<line x1="268.30" y1="314.10" x2="280.00" y2="314.10" stroke-width="1.2"/>
</g>
<circle cx="274.00" cy="314.10" r="1.5" fill="#ff0000" />
<text x="0" y="0" font-size="7.5" fill="#000" text-anchor="start" transform="translate(283.1 303.1) scale(1 1.16)" >SERT +/+</text>
<text x="0" y="0" font-size="7.5" fill="#000" text-anchor="start" transform="translate(283.1 317.5) scale(1 1.16)" >SERT -/-</text>
<line x1="426.7" y1="219.3" x2="426.7" y2="383.5" stroke="#ebebeb" stroke-width="0.9" />
<line x1="455.4" y1="219.3" x2="455.4" y2="383.5" stroke="#ebebeb" stroke-width="0.9" />
<line x1="483.8" y1="219.3" x2="483.8" y2="383.5" stroke="#ebebeb" stroke-width="0.9" />
<line x1="409.2" y1="233.96" x2="501" y2="233.96" stroke="#ebebeb" stroke-width="0.6" />
<line x1="409.2" y1="268.43" x2="501" y2="268.43" stroke="#ebebeb" stroke-width="0.6" />
<line x1="409.2" y1="302.9" x2="501" y2="302.9" stroke="#ebebeb" stroke-width="0.6" />
<line x1="409.2" y1="337.37" x2="501" y2="337.37" stroke="#ebebeb" stroke-width="0.6" />
<line x1="409.2" y1="371.84" x2="501" y2="371.84" stroke="#ebebeb" stroke-width="0.6" />
<line x1="409.2" y1="251.19" x2="501" y2="251.19" stroke="#ebebeb" stroke-width="0.9" />
<line x1="409.2" y1="285.66" x2="501" y2="285.66" stroke="#ebebeb" stroke-width="0.9" />
<line x1="409.2" y1="320.13" x2="501" y2="320.13" stroke="#ebebeb" stroke-width="0.9" />
<line x1="409.2" y1="354.6" x2="501" y2="354.6" stroke="#ebebeb" stroke-width="0.9" />
<line x1="523.6" y1="219.3" x2="523.6" y2="383.5" stroke="#ebebeb" stroke-width="0.9" />
<line x1="552.4" y1="219.3" x2="552.4" y2="383.5" stroke="#ebebeb" stroke-width="0.9" />
<line x1="580.8" y1="219.3" x2="580.8" y2="383.5" stroke="#ebebeb" stroke-width="0.9" />
<line x1="506.8" y1="233.96" x2="598.1" y2="233.96" stroke="#ebebeb" stroke-width="0.6" />
<line x1="506.8" y1="268.43" x2="598.1" y2="268.43" stroke="#ebebeb" stroke-width="0.6" />
<line x1="506.8" y1="302.9" x2="598.1" y2="302.9" stroke="#ebebeb" stroke-width="0.6" />
<line x1="506.8" y1="337.37" x2="598.1" y2="337.37" stroke="#ebebeb" stroke-width="0.6" />
<line x1="506.8" y1="371.84" x2="598.1" y2="371.84" stroke="#ebebeb" stroke-width="0.6" />
<line x1="506.8" y1="251.19" x2="598.1" y2="251.19" stroke="#ebebeb" stroke-width="0.9" />
<line x1="506.8" y1="285.66" x2="598.1" y2="285.66" stroke="#ebebeb" stroke-width="0.9" />
<line x1="506.8" y1="320.13" x2="598.1" y2="320.13" stroke="#ebebeb" stroke-width="0.9" />
<line x1="506.8" y1="354.6" x2="598.1" y2="354.6" stroke="#ebebeb" stroke-width="0.9" />
<g stroke="#c4c4c4" fill="none">
<line x1="426.70" y1="226.90" x2="426.70" y2="304.90" stroke-width="0.9"/>
<line x1="426.70" y1="357.70" x2="426.70" y2="367.50" stroke-width="0.9"/>
<rect x="415.65" y="304.90" width="22.10" height="52.80" stroke-width="0.9"/>
<line x1="415.65" y1="345.20" x2="437.75" y2="345.20" stroke-width="1.1"/>
</g>
<g stroke="#0000ff" fill="none">
<line x1="455.40" y1="276.50" x2="455.40" y2="303.00" stroke-width="1.1"/>
<line x1="455.40" y1="356.20" x2="455.40" y2="375.20" stroke-width="1.1"/>
<rect x="444.35" y="303.00" width="22.10" height="53.20" stroke-width="1.1"/>
<line x1="444.35" y1="314.40" x2="466.45" y2="314.40" stroke-width="1.3"/>
</g>
<g stroke="#ff0000" fill="none">
<line x1="483.80" y1="329.30" x2="483.80" y2="329.30" stroke-width="1.1"/>
<line x1="483.80" y1="353.00" x2="483.80" y2="370.60" stroke-width="1.1"/>
<rect x="472.75" y="329.30" width="22.10" height="23.70" stroke-width="1.1"/>
<line x1="472.75" y1="349.30" x2="494.85" y2="349.30" stroke-width="1.3"/>
</g>
<g stroke="#c4c4c4" fill="none">
<line x1="523.60" y1="230.50" x2="523.60" y2="293.70" stroke-width="0.9"/>
<line x1="523.60" y1="342.90" x2="523.60" y2="370.70" stroke-width="0.9"/>
<rect x="512.55" y="293.70" width="22.10" height="49.20" stroke-width="0.9"/>
<line x1="512.55" y1="324.40" x2="534.65" y2="324.40" stroke-width="1.1"/>
</g>
<g stroke="#0000ff" fill="none">
<line x1="552.40" y1="253.30" x2="552.40" y2="289.70" stroke-width="1.1"/>
<line x1="552.40" y1="341.00" x2="552.40" y2="362.10" stroke-width="1.1"/>
<rect x="541.35" y="289.70" width="22.10" height="51.30" stroke-width="1.1"/>
<line x1="541.35" y1="313.50" x2="563.45" y2="313.50" stroke-width="1.3"/>
</g>
<g stroke="#ff0000" fill="none">
<line x1="580.80" y1="273.40" x2="580.80" y2="312.10" stroke-width="1.1"/>
<line x1="580.80" y1="347.80" x2="580.80" y2="358.50" stroke-width="1.1"/>
<rect x="569.75" y="312.10" width="22.10" height="35.70" stroke-width="1.1"/>
<line x1="569.75" y1="330.50" x2="591.85" y2="330.50" stroke-width="1.3"/>
</g>
<circle cx="415.00" cy="226.90" r="1.45" fill="#a0a0a0" fill-opacity="0.3" stroke="#a0a0a0" stroke-width="0.85" stroke-opacity="0.75"/>
<circle cx="427.70" cy="226.90" r="1.45" fill="#a0a0a0" fill-opacity="0.3" stroke="#a0a0a0" stroke-width="0.85" stroke-opacity="0.75"/>
<circle cx="423.80" cy="241.60" r="1.45" fill="#a0a0a0" fill-opacity="0.3" stroke="#a0a0a0" stroke-width="0.85" stroke-opacity="0.75"/>
<circle cx="431.00" cy="241.60" r="1.45" fill="#a0a0a0" fill-opacity="0.3" stroke="#a0a0a0" stroke-width="0.85" stroke-opacity="0.75"/>
<circle cx="426.88" cy="270.00" r="1.45" fill="#a0a0a0" fill-opacity="0.3" stroke="#a0a0a0" stroke-width="0.85" stroke-opacity="0.75"/>
<circle cx="428.66" cy="270.00" r="1.45" fill="#a0a0a0" fill-opacity="0.3" stroke="#a0a0a0" stroke-width="0.85" stroke-opacity="0.75"/>
<circle cx="419.64" cy="271.90" r="1.45" fill="#a0a0a0" fill-opacity="0.3" stroke="#a0a0a0" stroke-width="0.85" stroke-opacity="0.75"/>
<circle cx="426.97" cy="271.90" r="1.45" fill="#a0a0a0" fill-opacity="0.3" stroke="#a0a0a0" stroke-width="0.85" stroke-opacity="0.75"/>
<circle cx="429.61" cy="276.00" r="1.45" fill="#a0a0a0" fill-opacity="0.3" stroke="#a0a0a0" stroke-width="0.85" stroke-opacity="0.75"/>
<circle cx="433.26" cy="276.00" r="1.45" fill="#a0a0a0" fill-opacity="0.3" stroke="#a0a0a0" stroke-width="0.85" stroke-opacity="0.75"/>
<circle cx="417.61" cy="278.40" r="1.45" fill="#a0a0a0" fill-opacity="0.3" stroke="#a0a0a0" stroke-width="0.85" stroke-opacity="0.75"/>
<circle cx="422.30" cy="278.40" r="1.45" fill="#a0a0a0" fill-opacity="0.3" stroke="#a0a0a0" stroke-width="0.85" stroke-opacity="0.75"/>
<circle cx="417.53" cy="280.00" r="1.45" fill="#a0a0a0" fill-opacity="0.3" stroke="#a0a0a0" stroke-width="0.85" stroke-opacity="0.75"/>
<circle cx="433.64" cy="280.00" r="1.45" fill="#a0a0a0" fill-opacity="0.3" stroke="#a0a0a0" stroke-width="0.85" stroke-opacity="0.75"/>
<circle cx="431.03" cy="281.40" r="1.45" fill="#a0a0a0" fill-opacity="0.3" stroke="#a0a0a0" stroke-width="0.85" stroke-opacity="0.75"/>
<circle cx="416.44" cy="281.40" r="1.45" fill="#a0a0a0" fill-opacity="0.3" stroke="#a0a0a0" stroke-width="0.85" stroke-opacity="0.75"/>
<circle cx="437.50" cy="282.60" r="1.45" fill="#a0a0a0" fill-opacity="0.3" stroke="#a0a0a0" stroke-width="0.85" stroke-opacity="0.75"/>
<circle cx="437.11" cy="282.60" r="1.45" fill="#a0a0a0" fill-opacity="0.3" stroke="#a0a0a0" stroke-width="0.85" stroke-opacity="0.75"/>
<circle cx="430.15" cy="291.60" r="1.45" fill="#a0a0a0" fill-opacity="0.3" stroke="#a0a0a0" stroke-width="0.85" stroke-opacity="0.75"/>
<circle cx="429.29" cy="291.60" r="1.45" fill="#a0a0a0" fill-opacity="0.3" stroke="#a0a0a0" stroke-width="0.85" stroke-opacity="0.75"/>
<circle cx="419.03" cy="292.40" r="1.45" fill="#a0a0a0" fill-opacity="0.3" stroke="#a0a0a0" stroke-width="0.85" stroke-opacity="0.75"/>
<circle cx="415.84" cy="292.40" r="1.45" fill="#a0a0a0" fill-opacity="0.3" stroke="#a0a0a0" stroke-width="0.85" stroke-opacity="0.75"/>
<circle cx="427.34" cy="296.30" r="1.45" fill="#a0a0a0" fill-opacity="0.3" stroke="#a0a0a0" stroke-width="0.85" stroke-opacity="0.75"/>
<circle cx="416.83" cy="296.30" r="1.45" fill="#a0a0a0" fill-opacity="0.3" stroke="#a0a0a0" stroke-width="0.85" stroke-opacity="0.75"/>
<circle cx="419.76" cy="304.10" r="1.45" fill="#a0a0a0" fill-opacity="0.3" stroke="#a0a0a0" stroke-width="0.85" stroke-opacity="0.75"/>
<circle cx="420.92" cy="304.10" r="1.45" fill="#a0a0a0" fill-opacity="0.3" stroke="#a0a0a0" stroke-width="0.85" stroke-opacity="0.75"/>
<circle cx="416.17" cy="304.60" r="1.45" fill="#a0a0a0" fill-opacity="0.3" stroke="#a0a0a0" stroke-width="0.85" stroke-opacity="0.75"/>
<circle cx="425.89" cy="304.60" r="1.45" fill="#a0a0a0" fill-opacity="0.3" stroke="#a0a0a0" stroke-width="0.85" stroke-opacity="0.75"/>
<circle cx="425.37" cy="305.50" r="1.45" fill="#a0a0a0" fill-opacity="0.3" stroke="#a0a0a0" stroke-width="0.85" stroke-opacity="0.75"/>
<circle cx="434.37" cy="305.50" r="1.45" fill="#a0a0a0" fill-opacity="0.3" stroke="#a0a0a0" stroke-width="0.85" stroke-opacity="0.75"/>
<circle cx="427.13" cy="309.40" r="1.45" fill="#a0a0a0" fill-opacity="0.3" stroke="#a0a0a0" stroke-width="0.85" stroke-opacity="0.75"/>
<circle cx="429.84" cy="309.40" r="1.45" fill="#a0a0a0" fill-opacity="0.3" stroke="#a0a0a0" stroke-width="0.85" stroke-opacity="0.75"/>
<circle cx="426.69" cy="310.50" r="1.45" fill="#a0a0a0" fill-opacity="0.3" stroke="#a0a0a0" stroke-width="0.85" stroke-opacity="0.75"/>
<circle cx="430.34" cy="310.50" r="1.45" fill="#a0a0a0" fill-opacity="0.3" stroke="#a0a0a0" stroke-width="0.85" stroke-opacity="0.75"/>
<circle cx="425.74" cy="313.10" r="1.45" fill="#a0a0a0" fill-opacity="0.3" stroke="#a0a0a0" stroke-width="0.85" stroke-opacity="0.75"/>
<circle cx="421.73" cy="313.10" r="1.45" fill="#a0a0a0" fill-opacity="0.3" stroke="#a0a0a0" stroke-width="0.85" stroke-opacity="0.75"/>
<circle cx="437.85" cy="313.30" r="1.45" fill="#a0a0a0" fill-opacity="0.3" stroke="#a0a0a0" stroke-width="0.85" stroke-opacity="0.75"/>
<circle cx="437.80" cy="313.30" r="1.45" fill="#a0a0a0" fill-opacity="0.3" stroke="#a0a0a0" stroke-width="0.85" stroke-opacity="0.75"/>
<circle cx="434.32" cy="316.20" r="1.45" fill="#a0a0a0" fill-opacity="0.3" stroke="#a0a0a0" stroke-width="0.85" stroke-opacity="0.75"/>
<circle cx="431.35" cy="316.20" r="1.45" fill="#a0a0a0" fill-opacity="0.3" stroke="#a0a0a0" stroke-width="0.85" stroke-opacity="0.75"/>
<circle cx="422.56" cy="317.00" r="1.45" fill="#a0a0a0" fill-opacity="0.3" stroke="#a0a0a0" stroke-width="0.85" stroke-opacity="0.75"/>
<circle cx="420.64" cy="317.00" r="1.45" fill="#a0a0a0" fill-opacity="0.3" stroke="#a0a0a0" stroke-width="0.85" stroke-opacity="0.75"/>
<circle cx="421.97" cy="324.00" r="1.45" fill="#a0a0a0" fill-opacity="0.3" stroke="#a0a0a0" stroke-width="0.85" stroke-opacity="0.75"/>
<circle cx="417.07" cy="324.00" r="1.45" fill="#a0a0a0" fill-opacity="0.3" stroke="#a0a0a0" stroke-width="0.85" stroke-opacity="0.75"/>
<circle cx="432.66" cy="334.60" r="1.45" fill="#a0a0a0" fill-opacity="0.3" stroke="#a0a0a0" stroke-width="0.85" stroke-opacity="0.75"/>
<circle cx="424.47" cy="334.60" r="1.45" fill="#a0a0a0" fill-opacity="0.3" stroke="#a0a0a0" stroke-width="0.85" stroke-opacity="0.75"/>
<circle cx="434.46" cy="336.90" r="1.45" fill="#a0a0a0" fill-opacity="0.3" stroke="#a0a0a0" stroke-width="0.85" stroke-opacity="0.75"/>
<circle cx="424.16" cy="336.90" r="1.45" fill="#a0a0a0" fill-opacity="0.3" stroke="#a0a0a0" stroke-width="0.85" stroke-opacity="0.75"/>
<circle cx="436.96" cy="340.30" r="1.45" fill="#a0a0a0" fill-opacity="0.3" stroke="#a0a0a0" stroke-width="0.85" stroke-opacity="0.75"/>
<circle cx="434.48" cy="340.30" r="1.45" fill="#a0a0a0" fill-opacity="0.3" stroke="#a0a0a0" stroke-width="0.85" stroke-opacity="0.75"/>
<circle cx="415.51" cy="342.00" r="1.45" fill="#a0a0a0" fill-opacity="0.3" stroke="#a0a0a0" stroke-width="0.85" stroke-opacity="0.75"/>
<circle cx="420.20" cy="342.00" r="1.45" fill="#a0a0a0" fill-opacity="0.3" stroke="#a0a0a0" stroke-width="0.85" stroke-opacity="0.75"/>
<circle cx="435.89" cy="343.50" r="1.45" fill="#a0a0a0" fill-opacity="0.3" stroke="#a0a0a0" stroke-width="0.85" stroke-opacity="0.75"/>
<circle cx="426.03" cy="343.50" r="1.45" fill="#a0a0a0" fill-opacity="0.3" stroke="#a0a0a0" stroke-width="0.85" stroke-opacity="0.75"/>
<circle cx="437.46" cy="344.20" r="1.45" fill="#a0a0a0" fill-opacity="0.3" stroke="#a0a0a0" stroke-width="0.85" stroke-opacity="0.75"/>
<circle cx="424.40" cy="344.20" r="1.45" fill="#a0a0a0" fill-opacity="0.3" stroke="#a0a0a0" stroke-width="0.85" stroke-opacity="0.75"/>
<circle cx="417.14" cy="344.80" r="1.45" fill="#a0a0a0" fill-opacity="0.3" stroke="#a0a0a0" stroke-width="0.85" stroke-opacity="0.75"/>
<circle cx="429.60" cy="344.80" r="1.45" fill="#a0a0a0" fill-opacity="0.3" stroke="#a0a0a0" stroke-width="0.85" stroke-opacity="0.75"/>
<circle cx="432.94" cy="345.20" r="1.45" fill="#a0a0a0" fill-opacity="0.3" stroke="#a0a0a0" stroke-width="0.85" stroke-opacity="0.75"/>
<circle cx="421.54" cy="345.20" r="1.45" fill="#a0a0a0" fill-opacity="0.3" stroke="#a0a0a0" stroke-width="0.85" stroke-opacity="0.75"/>
<circle cx="417.45" cy="345.64" r="1.45" fill="#a0a0a0" fill-opacity="0.3" stroke="#a0a0a0" stroke-width="0.85" stroke-opacity="0.75"/>
<circle cx="422.95" cy="345.64" r="1.45" fill="#a0a0a0" fill-opacity="0.3" stroke="#a0a0a0" stroke-width="0.85" stroke-opacity="0.75"/>
<circle cx="437.10" cy="346.33" r="1.45" fill="#a0a0a0" fill-opacity="0.3" stroke="#a0a0a0" stroke-width="0.85" stroke-opacity="0.75"/>
<circle cx="432.48" cy="346.33" r="1.45" fill="#a0a0a0" fill-opacity="0.3" stroke="#a0a0a0" stroke-width="0.85" stroke-opacity="0.75"/>
<circle cx="418.14" cy="347.02" r="1.45" fill="#a0a0a0" fill-opacity="0.3" stroke="#a0a0a0" stroke-width="0.85" stroke-opacity="0.75"/>
<circle cx="421.02" cy="347.02" r="1.45" fill="#a0a0a0" fill-opacity="0.3" stroke="#a0a0a0" stroke-width="0.85" stroke-opacity="0.75"/>
<circle cx="417.76" cy="347.71" r="1.45" fill="#a0a0a0" fill-opacity="0.3" stroke="#a0a0a0" stroke-width="0.85" stroke-opacity="0.75"/>
<circle cx="416.84" cy="347.71" r="1.45" fill="#a0a0a0" fill-opacity="0.3" stroke="#a0a0a0" stroke-width="0.85" stroke-opacity="0.75"/>
<circle cx="433.35" cy="348.40" r="1.45" fill="#a0a0a0" fill-opacity="0.3" stroke="#a0a0a0" stroke-width="0.85" stroke-opacity="0.75"/>
<circle cx="419.48" cy="348.40" r="1.45" fill="#a0a0a0" fill-opacity="0.3" stroke="#a0a0a0" stroke-width="0.85" stroke-opacity="0.75"/>
<circle cx="428.03" cy="349.09" r="1.45" fill="#a0a0a0" fill-opacity="0.3" stroke="#a0a0a0" stroke-width="0.85" stroke-opacity="0.75"/>
<circle cx="425.52" cy="349.09" r="1.45" fill="#a0a0a0" fill-opacity="0.3" stroke="#a0a0a0" stroke-width="0.85" stroke-opacity="0.75"/>
<circle cx="419.77" cy="349.78" r="1.45" fill="#a0a0a0" fill-opacity="0.3" stroke="#a0a0a0" stroke-width="0.85" stroke-opacity="0.75"/>
<circle cx="431.89" cy="349.78" r="1.45" fill="#a0a0a0" fill-opacity="0.3" stroke="#a0a0a0" stroke-width="0.85" stroke-opacity="0.75"/>
<circle cx="418.43" cy="350.47" r="1.45" fill="#a0a0a0" fill-opacity="0.3" stroke="#a0a0a0" stroke-width="0.85" stroke-opacity="0.75"/>
<circle cx="429.92" cy="350.47" r="1.45" fill="#a0a0a0" fill-opacity="0.3" stroke="#a0a0a0" stroke-width="0.85" stroke-opacity="0.75"/>
<circle cx="418.11" cy="351.16" r="1.45" fill="#a0a0a0" fill-opacity="0.3" stroke="#a0a0a0" stroke-width="0.85" stroke-opacity="0.75"/>
<circle cx="424.92" cy="351.16" r="1.45" fill="#a0a0a0" fill-opacity="0.3" stroke="#a0a0a0" stroke-width="0.85" stroke-opacity="0.75"/>
<circle cx="420.27" cy="351.84" r="1.45" fill="#a0a0a0" fill-opacity="0.3" stroke="#a0a0a0" stroke-width="0.85" stroke-opacity="0.75"/>
<circle cx="421.54" cy="351.84" r="1.45" fill="#a0a0a0" fill-opacity="0.3" stroke="#a0a0a0" stroke-width="0.85" stroke-opacity="0.75"/>
<circle cx="437.25" cy="352.53" r="1.45" fill="#a0a0a0" fill-opacity="0.3" stroke="#a0a0a0" stroke-width="0.85" stroke-opacity="0.75"/>
<circle cx="433.50" cy="352.53" r="1.45" fill="#a0a0a0" fill-opacity="0.3" stroke="#a0a0a0" stroke-width="0.85" stroke-opacity="0.75"/>
<circle cx="422.31" cy="353.22" r="1.45" fill="#a0a0a0" fill-opacity="0.3" stroke="#a0a0a0" stroke-width="0.85" stroke-opacity="0.75"/>
<circle cx="435.32" cy="353.22" r="1.45" fill="#a0a0a0" fill-opacity="0.3" stroke="#a0a0a0" stroke-width="0.85" stroke-opacity="0.75"/>
<circle cx="420.22" cy="353.91" r="1.45" fill="#a0a0a0" fill-opacity="0.3" stroke="#a0a0a0" stroke-width="0.85" stroke-opacity="0.75"/>
<circle cx="424.33" cy="353.91" r="1.45" fill="#a0a0a0" fill-opacity="0.3" stroke="#a0a0a0" stroke-width="0.85" stroke-opacity="0.75"/>
<circle cx="434.64" cy="354.60" r="1.45" fill="#a0a0a0" fill-opacity="0.3" stroke="#a0a0a0" stroke-width="0.85" stroke-opacity="0.75"/>
<circle cx="429.88" cy="354.60" r="1.45" fill="#a0a0a0" fill-opacity="0.3" stroke="#a0a0a0" stroke-width="0.85" stroke-opacity="0.75"/>
<circle cx="417.75" cy="355.29" r="1.45" fill="#a0a0a0" fill-opacity="0.3" stroke="#a0a0a0" stroke-width="0.85" stroke-opacity="0.75"/>
<circle cx="437.66" cy="355.29" r="1.45" fill="#a0a0a0" fill-opacity="0.3" stroke="#a0a0a0" stroke-width="0.85" stroke-opacity="0.75"/>
<circle cx="420.28" cy="355.98" r="1.45" fill="#a0a0a0" fill-opacity="0.3" stroke="#a0a0a0" stroke-width="0.85" stroke-opacity="0.75"/>
<circle cx="421.29" cy="355.98" r="1.45" fill="#a0a0a0" fill-opacity="0.3" stroke="#a0a0a0" stroke-width="0.85" stroke-opacity="0.75"/>
<circle cx="432.81" cy="356.67" r="1.45" fill="#a0a0a0" fill-opacity="0.3" stroke="#a0a0a0" stroke-width="0.85" stroke-opacity="0.75"/>
<circle cx="422.87" cy="356.67" r="1.45" fill="#a0a0a0" fill-opacity="0.3" stroke="#a0a0a0" stroke-width="0.85" stroke-opacity="0.75"/>
<circle cx="422.14" cy="357.36" r="1.45" fill="#a0a0a0" fill-opacity="0.3" stroke="#a0a0a0" stroke-width="0.85" stroke-opacity="0.75"/>
<circle cx="417.14" cy="357.36" r="1.45" fill="#a0a0a0" fill-opacity="0.3" stroke="#a0a0a0" stroke-width="0.85" stroke-opacity="0.75"/>
<circle cx="417.52" cy="357.76" r="1.45" fill="#a0a0a0" fill-opacity="0.3" stroke="#a0a0a0" stroke-width="0.85" stroke-opacity="0.75"/>
<circle cx="428.55" cy="357.76" r="1.45" fill="#a0a0a0" fill-opacity="0.3" stroke="#a0a0a0" stroke-width="0.85" stroke-opacity="0.75"/>
<circle cx="420.94" cy="357.97" r="1.45" fill="#a0a0a0" fill-opacity="0.3" stroke="#a0a0a0" stroke-width="0.85" stroke-opacity="0.75"/>
<circle cx="428.97" cy="357.97" r="1.45" fill="#a0a0a0" fill-opacity="0.3" stroke="#a0a0a0" stroke-width="0.85" stroke-opacity="0.75"/>
<circle cx="423.83" cy="358.22" r="1.45" fill="#a0a0a0" fill-opacity="0.3" stroke="#a0a0a0" stroke-width="0.85" stroke-opacity="0.75"/>
<circle cx="425.65" cy="358.22" r="1.45" fill="#a0a0a0" fill-opacity="0.3" stroke="#a0a0a0" stroke-width="0.85" stroke-opacity="0.75"/>
<circle cx="436.98" cy="358.50" r="1.45" fill="#a0a0a0" fill-opacity="0.3" stroke="#a0a0a0" stroke-width="0.85" stroke-opacity="0.75"/>
<circle cx="426.34" cy="358.50" r="1.45" fill="#a0a0a0" fill-opacity="0.3" stroke="#a0a0a0" stroke-width="0.85" stroke-opacity="0.75"/>
<circle cx="428.37" cy="358.81" r="1.45" fill="#a0a0a0" fill-opacity="0.3" stroke="#a0a0a0" stroke-width="0.85" stroke-opacity="0.75"/>
<circle cx="434.91" cy="358.81" r="1.45" fill="#a0a0a0" fill-opacity="0.3" stroke="#a0a0a0" stroke-width="0.85" stroke-opacity="0.75"/>
<circle cx="419.60" cy="359.14" r="1.45" fill="#a0a0a0" fill-opacity="0.3" stroke="#a0a0a0" stroke-width="0.85" stroke-opacity="0.75"/>
<circle cx="418.95" cy="359.14" r="1.45" fill="#a0a0a0" fill-opacity="0.3" stroke="#a0a0a0" stroke-width="0.85" stroke-opacity="0.75"/>
<circle cx="435.85" cy="359.49" r="1.45" fill="#a0a0a0" fill-opacity="0.3" stroke="#a0a0a0" stroke-width="0.85" stroke-opacity="0.75"/>
<circle cx="433.82" cy="359.49" r="1.45" fill="#a0a0a0" fill-opacity="0.3" stroke="#a0a0a0" stroke-width="0.85" stroke-opacity="0.75"/>
<circle cx="421.09" cy="359.86" r="1.45" fill="#a0a0a0" fill-opacity="0.3" stroke="#a0a0a0" stroke-width="0.85" stroke-opacity="0.75"/>
<circle cx="419.75" cy="359.86" r="1.45" fill="#a0a0a0" fill-opacity="0.3" stroke="#a0a0a0" stroke-width="0.85" stroke-opacity="0.75"/>
<circle cx="432.06" cy="360.24" r="1.45" fill="#a0a0a0" fill-opacity="0.3" stroke="#a0a0a0" stroke-width="0.85" stroke-opacity="0.75"/>
<circle cx="436.57" cy="360.24" r="1.45" fill="#a0a0a0" fill-opacity="0.3" stroke="#a0a0a0" stroke-width="0.85" stroke-opacity="0.75"/>
<circle cx="419.90" cy="360.64" r="1.45" fill="#a0a0a0" fill-opacity="0.3" stroke="#a0a0a0" stroke-width="0.85" stroke-opacity="0.75"/>
<circle cx="436.78" cy="360.64" r="1.45" fill="#a0a0a0" fill-opacity="0.3" stroke="#a0a0a0" stroke-width="0.85" stroke-opacity="0.75"/>
<circle cx="435.26" cy="361.05" r="1.45" fill="#a0a0a0" fill-opacity="0.3" stroke="#a0a0a0" stroke-width="0.85" stroke-opacity="0.75"/>
<circle cx="429.02" cy="361.05" r="1.45" fill="#a0a0a0" fill-opacity="0.3" stroke="#a0a0a0" stroke-width="0.85" stroke-opacity="0.75"/>
<circle cx="424.94" cy="361.47" r="1.45" fill="#a0a0a0" fill-opacity="0.3" stroke="#a0a0a0" stroke-width="0.85" stroke-opacity="0.75"/>
<circle cx="417.83" cy="361.47" r="1.45" fill="#a0a0a0" fill-opacity="0.3" stroke="#a0a0a0" stroke-width="0.85" stroke-opacity="0.75"/>
<circle cx="416.37" cy="361.90" r="1.45" fill="#a0a0a0" fill-opacity="0.3" stroke="#a0a0a0" stroke-width="0.85" stroke-opacity="0.75"/>
<circle cx="437.06" cy="361.90" r="1.45" fill="#a0a0a0" fill-opacity="0.3" stroke="#a0a0a0" stroke-width="0.85" stroke-opacity="0.75"/>
<circle cx="420.84" cy="362.34" r="1.45" fill="#a0a0a0" fill-opacity="0.3" stroke="#a0a0a0" stroke-width="0.85" stroke-opacity="0.75"/>
<circle cx="431.28" cy="362.34" r="1.45" fill="#a0a0a0" fill-opacity="0.3" stroke="#a0a0a0" stroke-width="0.85" stroke-opacity="0.75"/>
<circle cx="421.26" cy="362.79" r="1.45" fill="#a0a0a0" fill-opacity="0.3" stroke="#a0a0a0" stroke-width="0.85" stroke-opacity="0.75"/>
<circle cx="433.95" cy="362.79" r="1.45" fill="#a0a0a0" fill-opacity="0.3" stroke="#a0a0a0" stroke-width="0.85" stroke-opacity="0.75"/>
<circle cx="428.86" cy="363.25" r="1.45" fill="#a0a0a0" fill-opacity="0.3" stroke="#a0a0a0" stroke-width="0.85" stroke-opacity="0.75"/>
<circle cx="422.07" cy="363.25" r="1.45" fill="#a0a0a0" fill-opacity="0.3" stroke="#a0a0a0" stroke-width="0.85" stroke-opacity="0.75"/>
<circle cx="419.43" cy="363.72" r="1.45" fill="#a0a0a0" fill-opacity="0.3" stroke="#a0a0a0" stroke-width="0.85" stroke-opacity="0.75"/>
<circle cx="431.64" cy="363.72" r="1.45" fill="#a0a0a0" fill-opacity="0.3" stroke="#a0a0a0" stroke-width="0.85" stroke-opacity="0.75"/>
<circle cx="417.04" cy="364.20" r="1.45" fill="#a0a0a0" fill-opacity="0.3" stroke="#a0a0a0" stroke-width="0.85" stroke-opacity="0.75"/>
<circle cx="420.62" cy="364.20" r="1.45" fill="#a0a0a0" fill-opacity="0.3" stroke="#a0a0a0" stroke-width="0.85" stroke-opacity="0.75"/>
<circle cx="428.03" cy="364.69" r="1.45" fill="#a0a0a0" fill-opacity="0.3" stroke="#a0a0a0" stroke-width="0.85" stroke-opacity="0.75"/>
<circle cx="434.59" cy="364.69" r="1.45" fill="#a0a0a0" fill-opacity="0.3" stroke="#a0a0a0" stroke-width="0.85" stroke-opacity="0.75"/>
<circle cx="429.26" cy="365.18" r="1.45" fill="#a0a0a0" fill-opacity="0.3" stroke="#a0a0a0" stroke-width="0.85" stroke-opacity="0.75"/>
<circle cx="421.78" cy="365.18" r="1.45" fill="#a0a0a0" fill-opacity="0.3" stroke="#a0a0a0" stroke-width="0.85" stroke-opacity="0.75"/>
<circle cx="436.05" cy="365.68" r="1.45" fill="#a0a0a0" fill-opacity="0.3" stroke="#a0a0a0" stroke-width="0.85" stroke-opacity="0.75"/>
<circle cx="420.07" cy="365.68" r="1.45" fill="#a0a0a0" fill-opacity="0.3" stroke="#a0a0a0" stroke-width="0.85" stroke-opacity="0.75"/>
<circle cx="415.87" cy="366.19" r="1.45" fill="#a0a0a0" fill-opacity="0.3" stroke="#a0a0a0" stroke-width="0.85" stroke-opacity="0.75"/>
<circle cx="421.53" cy="366.19" r="1.45" fill="#a0a0a0" fill-opacity="0.3" stroke="#a0a0a0" stroke-width="0.85" stroke-opacity="0.75"/>
<circle cx="425.48" cy="366.71" r="1.45" fill="#a0a0a0" fill-opacity="0.3" stroke="#a0a0a0" stroke-width="0.85" stroke-opacity="0.75"/>
<circle cx="416.85" cy="366.71" r="1.45" fill="#a0a0a0" fill-opacity="0.3" stroke="#a0a0a0" stroke-width="0.85" stroke-opacity="0.75"/>
<circle cx="419.45" cy="367.24" r="1.45" fill="#a0a0a0" fill-opacity="0.3" stroke="#a0a0a0" stroke-width="0.85" stroke-opacity="0.75"/>
<circle cx="423.76" cy="367.24" r="1.45" fill="#a0a0a0" fill-opacity="0.3" stroke="#a0a0a0" stroke-width="0.85" stroke-opacity="0.75"/>
<circle cx="444.50" cy="276.50" r="1.45" fill="#0000ff" fill-opacity="0.3" stroke="#0000ff" stroke-width="0.85" stroke-opacity="0.85"/>
<circle cx="445.50" cy="276.50" r="1.45" fill="#0000ff" fill-opacity="0.3" stroke="#0000ff" stroke-width="0.85" stroke-opacity="0.85"/>
<circle cx="452.31" cy="277.10" r="1.45" fill="#0000ff" fill-opacity="0.3" stroke="#0000ff" stroke-width="0.85" stroke-opacity="0.85"/>
<circle cx="464.16" cy="277.10" r="1.45" fill="#0000ff" fill-opacity="0.3" stroke="#0000ff" stroke-width="0.85" stroke-opacity="0.85"/>
<circle cx="466.16" cy="278.00" r="1.45" fill="#0000ff" fill-opacity="0.3" stroke="#0000ff" stroke-width="0.85" stroke-opacity="0.85"/>
<circle cx="458.92" cy="278.00" r="1.45" fill="#0000ff" fill-opacity="0.3" stroke="#0000ff" stroke-width="0.85" stroke-opacity="0.85"/>
<circle cx="459.68" cy="279.70" r="1.45" fill="#0000ff" fill-opacity="0.3" stroke="#0000ff" stroke-width="0.85" stroke-opacity="0.85"/>
<circle cx="457.29" cy="279.70" r="1.45" fill="#0000ff" fill-opacity="0.3" stroke="#0000ff" stroke-width="0.85" stroke-opacity="0.85"/>
<circle cx="447.34" cy="281.00" r="1.45" fill="#0000ff" fill-opacity="0.3" stroke="#0000ff" stroke-width="0.85" stroke-opacity="0.85"/>
<circle cx="444.99" cy="281.00" r="1.45" fill="#0000ff" fill-opacity="0.3" stroke="#0000ff" stroke-width="0.85" stroke-opacity="0.85"/>
<circle cx="444.60" cy="283.00" r="1.45" fill="#0000ff" fill-opacity="0.3" stroke="#0000ff" stroke-width="0.85" stroke-opacity="0.85"/>
<circle cx="464.59" cy="283.00" r="1.45" fill="#0000ff" fill-opacity="0.3" stroke="#0000ff" stroke-width="0.85" stroke-opacity="0.85"/>
<circle cx="459.90" cy="283.60" r="1.45" fill="#0000ff" fill-opacity="0.3" stroke="#0000ff" stroke-width="0.85" stroke-opacity="0.85"/>
<circle cx="465.77" cy="283.60" r="1.45" fill="#0000ff" fill-opacity="0.3" stroke="#0000ff" stroke-width="0.85" stroke-opacity="0.85"/>
<circle cx="444.68" cy="301.20" r="1.45" fill="#0000ff" fill-opacity="0.3" stroke="#0000ff" stroke-width="0.85" stroke-opacity="0.85"/>
<circle cx="458.45" cy="301.20" r="1.45" fill="#0000ff" fill-opacity="0.3" stroke="#0000ff" stroke-width="0.85" stroke-opacity="0.85"/>
<circle cx="455.00" cy="302.00" r="1.45" fill="#0000ff" fill-opacity="0.3" stroke="#0000ff" stroke-width="0.85" stroke-opacity="0.85"/>
<circle cx="460.56" cy="302.00" r="1.45" fill="#0000ff" fill-opacity="0.3" stroke="#0000ff" stroke-width="0.85" stroke-opacity="0.85"/>
<circle cx="451.34" cy="303.00" r="1.45" fill="#0000ff" fill-opacity="0.3" stroke="#0000ff" stroke-width="0.85" stroke-opacity="0.85"/>
<circle cx="466.59" cy="303.00" r="1.45" fill="#0000ff" fill-opacity="0.3" stroke="#0000ff" stroke-width="0.85" stroke-opacity="0.85"/>
<circle cx="445.89" cy="304.80" r="1.45" fill="#0000ff" fill-opacity="0.3" stroke="#0000ff" stroke-width="0.85" stroke-opacity="0.85"/>
<circle cx="456.43" cy="304.80" r="1.45" fill="#0000ff" fill-opacity="0.3" stroke="#0000ff" stroke-width="0.85" stroke-opacity="0.85"/>
<circle cx="460.71" cy="306.00" r="1.45" fill="#0000ff" fill-opacity="0.3" stroke="#0000ff" stroke-width="0.85" stroke-opacity="0.85"/>
<circle cx="464.36" cy="306.00" r="1.45" fill="#0000ff" fill-opacity="0.3" stroke="#0000ff" stroke-width="0.85" stroke-opacity="0.85"/>
<circle cx="460.71" cy="308.70" r="1.45" fill="#0000ff" fill-opacity="0.3" stroke="#0000ff" stroke-width="0.85" stroke-opacity="0.85"/>
<circle cx="459.96" cy="308.70" r="1.45" fill="#0000ff" fill-opacity="0.3" stroke="#0000ff" stroke-width="0.85" stroke-opacity="0.85"/>
<circle cx="461.97" cy="308.90" r="1.45" fill="#0000ff" fill-opacity="0.3" stroke="#0000ff" stroke-width="0.85" stroke-opacity="0.85"/>
<circle cx="464.70" cy="308.90" r="1.45" fill="#0000ff" fill-opacity="0.3" stroke="#0000ff" stroke-width="0.85" stroke-opacity="0.85"/>
<circle cx="452.08" cy="309.50" r="1.45" fill="#0000ff" fill-opacity="0.3" stroke="#0000ff" stroke-width="0.85" stroke-opacity="0.85"/>
<circle cx="459.55" cy="309.50" r="1.45" fill="#0000ff" fill-opacity="0.3" stroke="#0000ff" stroke-width="0.85" stroke-opacity="0.85"/>
<circle cx="464.38" cy="311.30" r="1.45" fill="#0000ff" fill-opacity="0.3" stroke="#0000ff" stroke-width="0.85" stroke-opacity="0.85"/>
<circle cx="463.71" cy="311.30" r="1.45" fill="#0000ff" fill-opacity="0.3" stroke="#0000ff" stroke-width="0.85" stroke-opacity="0.85"/>
<circle cx="453.54" cy="312.60" r="1.45" fill="#0000ff" fill-opacity="0.3" stroke="#0000ff" stroke-width="0.85" stroke-opacity="0.85"/>
<circle cx="461.91" cy="312.60" r="1.45" fill="#0000ff" fill-opacity="0.3" stroke="#0000ff" stroke-width="0.85" stroke-opacity="0.85"/>
<circle cx="463.54" cy="314.40" r="1.45" fill="#0000ff" fill-opacity="0.3" stroke="#0000ff" stroke-width="0.85" stroke-opacity="0.85"/>
<circle cx="457.03" cy="314.40" r="1.45" fill="#0000ff" fill-opacity="0.3" stroke="#0000ff" stroke-width="0.85" stroke-opacity="0.85"/>
<circle cx="458.20" cy="317.00" r="1.45" fill="#0000ff" fill-opacity="0.3" stroke="#0000ff" stroke-width="0.85" stroke-opacity="0.85"/>
<circle cx="452.76" cy="317.00" r="1.45" fill="#0000ff" fill-opacity="0.3" stroke="#0000ff" stroke-width="0.85" stroke-opacity="0.85"/>
<circle cx="457.25" cy="318.00" r="1.45" fill="#0000ff" fill-opacity="0.3" stroke="#0000ff" stroke-width="0.85" stroke-opacity="0.85"/>
<circle cx="457.84" cy="318.00" r="1.45" fill="#0000ff" fill-opacity="0.3" stroke="#0000ff" stroke-width="0.85" stroke-opacity="0.85"/>
<circle cx="446.00" cy="321.50" r="1.45" fill="#0000ff" fill-opacity="0.3" stroke="#0000ff" stroke-width="0.85" stroke-opacity="0.85"/>
<circle cx="458.52" cy="321.50" r="1.45" fill="#0000ff" fill-opacity="0.3" stroke="#0000ff" stroke-width="0.85" stroke-opacity="0.85"/>
<circle cx="466.45" cy="322.00" r="1.45" fill="#0000ff" fill-opacity="0.3" stroke="#0000ff" stroke-width="0.85" stroke-opacity="0.85"/>
<circle cx="463.91" cy="322.00" r="1.45" fill="#0000ff" fill-opacity="0.3" stroke="#0000ff" stroke-width="0.85" stroke-opacity="0.85"/>
<circle cx="460.51" cy="340.30" r="1.45" fill="#0000ff" fill-opacity="0.3" stroke="#0000ff" stroke-width="0.85" stroke-opacity="0.85"/>
<circle cx="452.90" cy="340.30" r="1.45" fill="#0000ff" fill-opacity="0.3" stroke="#0000ff" stroke-width="0.85" stroke-opacity="0.85"/>
<circle cx="460.66" cy="344.00" r="1.45" fill="#0000ff" fill-opacity="0.3" stroke="#0000ff" stroke-width="0.85" stroke-opacity="0.85"/>
<circle cx="457.21" cy="344.00" r="1.45" fill="#0000ff" fill-opacity="0.3" stroke="#0000ff" stroke-width="0.85" stroke-opacity="0.85"/>
<circle cx="454.07" cy="350.50" r="1.45" fill="#0000ff" fill-opacity="0.3" stroke="#0000ff" stroke-width="0.85" stroke-opacity="0.85"/>
<circle cx="462.98" cy="350.50" r="1.45" fill="#0000ff" fill-opacity="0.3" stroke="#0000ff" stroke-width="0.85" stroke-opacity="0.85"/>
<circle cx="446.08" cy="351.00" r="1.45" fill="#0000ff" fill-opacity="0.3" stroke="#0000ff" stroke-width="0.85" stroke-opacity="0.85"/>
<circle cx="461.00" cy="351.00" r="1.45" fill="#0000ff" fill-opacity="0.3" stroke="#0000ff" stroke-width="0.85" stroke-opacity="0.85"/>
<circle cx="444.87" cy="352.50" r="1.45" fill="#0000ff" fill-opacity="0.3" stroke="#0000ff" stroke-width="0.85" stroke-opacity="0.85"/>
<circle cx="457.67" cy="352.50" r="1.45" fill="#0000ff" fill-opacity="0.3" stroke="#0000ff" stroke-width="0.85" stroke-opacity="0.85"/>
<circle cx="454.97" cy="355.50" r="1.45" fill="#0000ff" fill-opacity="0.3" stroke="#0000ff" stroke-width="0.85" stroke-opacity="0.85"/>
<circle cx="449.36" cy="355.50" r="1.45" fill="#0000ff" fill-opacity="0.3" stroke="#0000ff" stroke-width="0.85" stroke-opacity="0.85"/>
<circle cx="459.84" cy="356.20" r="1.45" fill="#0000ff" fill-opacity="0.3" stroke="#0000ff" stroke-width="0.85" stroke-opacity="0.85"/>
<circle cx="455.34" cy="356.20" r="1.45" fill="#0000ff" fill-opacity="0.3" stroke="#0000ff" stroke-width="0.85" stroke-opacity="0.85"/>
<circle cx="457.96" cy="359.30" r="1.45" fill="#0000ff" fill-opacity="0.3" stroke="#0000ff" stroke-width="0.85" stroke-opacity="0.85"/>
<circle cx="464.82" cy="359.30" r="1.45" fill="#0000ff" fill-opacity="0.3" stroke="#0000ff" stroke-width="0.85" stroke-opacity="0.85"/>
<circle cx="449.93" cy="359.80" r="1.45" fill="#0000ff" fill-opacity="0.3" stroke="#0000ff" stroke-width="0.85" stroke-opacity="0.85"/>
<circle cx="444.45" cy="359.80" r="1.45" fill="#0000ff" fill-opacity="0.3" stroke="#0000ff" stroke-width="0.85" stroke-opacity="0.85"/>
<circle cx="450.94" cy="361.50" r="1.45" fill="#0000ff" fill-opacity="0.3" stroke="#0000ff" stroke-width="0.85" stroke-opacity="0.85"/>
<circle cx="459.39" cy="361.50" r="1.45" fill="#0000ff" fill-opacity="0.3" stroke="#0000ff" stroke-width="0.85" stroke-opacity="0.85"/>
<circle cx="448.74" cy="364.30" r="1.45" fill="#0000ff" fill-opacity="0.3" stroke="#0000ff" stroke-width="0.85" stroke-opacity="0.85"/>
<circle cx="448.00" cy="364.30" r="1.45" fill="#0000ff" fill-opacity="0.3" stroke="#0000ff" stroke-width="0.85" stroke-opacity="0.85"/>
<circle cx="464.49" cy="370.40" r="1.45" fill="#0000ff" fill-opacity="0.3" stroke="#0000ff" stroke-width="0.85" stroke-opacity="0.85"/>
<circle cx="458.98" cy="370.40" r="1.45" fill="#0000ff" fill-opacity="0.3" stroke="#0000ff" stroke-width="0.85" stroke-opacity="0.85"/>
<circle cx="454.10" cy="372.40" r="1.45" fill="#0000ff" fill-opacity="0.3" stroke="#0000ff" stroke-width="0.85" stroke-opacity="0.85"/>
<circle cx="464.17" cy="372.40" r="1.45" fill="#0000ff" fill-opacity="0.3" stroke="#0000ff" stroke-width="0.85" stroke-opacity="0.85"/>
<circle cx="451.52" cy="375.00" r="1.45" fill="#0000ff" fill-opacity="0.3" stroke="#0000ff" stroke-width="0.85" stroke-opacity="0.85"/>
<circle cx="459.12" cy="375.00" r="1.45" fill="#0000ff" fill-opacity="0.3" stroke="#0000ff" stroke-width="0.85" stroke-opacity="0.85"/>
<circle cx="476.10" cy="259.50" r="1.45" fill="#ff0000" fill-opacity="0.3" stroke="#ff0000" stroke-width="0.85" stroke-opacity="0.85"/>
<circle cx="490.20" cy="259.50" r="1.45" fill="#ff0000" fill-opacity="0.3" stroke="#ff0000" stroke-width="0.85" stroke-opacity="0.85"/>
<circle cx="482.60" cy="275.00" r="1.45" fill="#ff0000" fill-opacity="0.3" stroke="#ff0000" stroke-width="0.85" stroke-opacity="0.85"/>
<circle cx="493.50" cy="275.00" r="1.45" fill="#ff0000" fill-opacity="0.3" stroke="#ff0000" stroke-width="0.85" stroke-opacity="0.85"/>
<circle cx="492.32" cy="280.80" r="1.45" fill="#ff0000" fill-opacity="0.3" stroke="#ff0000" stroke-width="0.85" stroke-opacity="0.85"/>
<circle cx="481.21" cy="280.80" r="1.45" fill="#ff0000" fill-opacity="0.3" stroke="#ff0000" stroke-width="0.85" stroke-opacity="0.85"/>
<circle cx="485.66" cy="282.30" r="1.45" fill="#ff0000" fill-opacity="0.3" stroke="#ff0000" stroke-width="0.85" stroke-opacity="0.85"/>
<circle cx="479.69" cy="282.30" r="1.45" fill="#ff0000" fill-opacity="0.3" stroke="#ff0000" stroke-width="0.85" stroke-opacity="0.85"/>
<circle cx="475.65" cy="287.30" r="1.45" fill="#ff0000" fill-opacity="0.3" stroke="#ff0000" stroke-width="0.85" stroke-opacity="0.85"/>
<circle cx="483.72" cy="287.30" r="1.45" fill="#ff0000" fill-opacity="0.3" stroke="#ff0000" stroke-width="0.85" stroke-opacity="0.85"/>
<circle cx="491.35" cy="329.30" r="1.45" fill="#ff0000" fill-opacity="0.3" stroke="#ff0000" stroke-width="0.85" stroke-opacity="0.85"/>
<circle cx="491.61" cy="329.30" r="1.45" fill="#ff0000" fill-opacity="0.3" stroke="#ff0000" stroke-width="0.85" stroke-opacity="0.85"/>
<circle cx="488.53" cy="337.30" r="1.45" fill="#ff0000" fill-opacity="0.3" stroke="#ff0000" stroke-width="0.85" stroke-opacity="0.85"/>
<circle cx="493.88" cy="337.30" r="1.45" fill="#ff0000" fill-opacity="0.3" stroke="#ff0000" stroke-width="0.85" stroke-opacity="0.85"/>
<circle cx="478.80" cy="343.80" r="1.45" fill="#ff0000" fill-opacity="0.3" stroke="#ff0000" stroke-width="0.85" stroke-opacity="0.85"/>
<circle cx="476.39" cy="343.80" r="1.45" fill="#ff0000" fill-opacity="0.3" stroke="#ff0000" stroke-width="0.85" stroke-opacity="0.85"/>
<circle cx="482.69" cy="344.80" r="1.45" fill="#ff0000" fill-opacity="0.3" stroke="#ff0000" stroke-width="0.85" stroke-opacity="0.85"/>
<circle cx="478.76" cy="344.80" r="1.45" fill="#ff0000" fill-opacity="0.3" stroke="#ff0000" stroke-width="0.85" stroke-opacity="0.85"/>
<circle cx="477.40" cy="345.40" r="1.45" fill="#ff0000" fill-opacity="0.3" stroke="#ff0000" stroke-width="0.85" stroke-opacity="0.85"/>
<circle cx="481.87" cy="345.40" r="1.45" fill="#ff0000" fill-opacity="0.3" stroke="#ff0000" stroke-width="0.85" stroke-opacity="0.85"/>
<circle cx="486.62" cy="347.00" r="1.45" fill="#ff0000" fill-opacity="0.3" stroke="#ff0000" stroke-width="0.85" stroke-opacity="0.85"/>
<circle cx="483.66" cy="347.00" r="1.45" fill="#ff0000" fill-opacity="0.3" stroke="#ff0000" stroke-width="0.85" stroke-opacity="0.85"/>
<circle cx="479.66" cy="348.50" r="1.45" fill="#ff0000" fill-opacity="0.3" stroke="#ff0000" stroke-width="0.85" stroke-opacity="0.85"/>
<circle cx="491.40" cy="348.50" r="1.45" fill="#ff0000" fill-opacity="0.3" stroke="#ff0000" stroke-width="0.85" stroke-opacity="0.85"/>
<circle cx="494.60" cy="349.30" r="1.45" fill="#ff0000" fill-opacity="0.3" stroke="#ff0000" stroke-width="0.85" stroke-opacity="0.85"/>
<circle cx="482.74" cy="349.30" r="1.45" fill="#ff0000" fill-opacity="0.3" stroke="#ff0000" stroke-width="0.85" stroke-opacity="0.85"/>
<circle cx="474.27" cy="350.20" r="1.45" fill="#ff0000" fill-opacity="0.3" stroke="#ff0000" stroke-width="0.85" stroke-opacity="0.85"/>
<circle cx="473.31" cy="350.20" r="1.45" fill="#ff0000" fill-opacity="0.3" stroke="#ff0000" stroke-width="0.85" stroke-opacity="0.85"/>
<circle cx="492.15" cy="351.00" r="1.45" fill="#ff0000" fill-opacity="0.3" stroke="#ff0000" stroke-width="0.85" stroke-opacity="0.85"/>
<circle cx="473.53" cy="351.00" r="1.45" fill="#ff0000" fill-opacity="0.3" stroke="#ff0000" stroke-width="0.85" stroke-opacity="0.85"/>
<circle cx="488.47" cy="351.60" r="1.45" fill="#ff0000" fill-opacity="0.3" stroke="#ff0000" stroke-width="0.85" stroke-opacity="0.85"/>
<circle cx="485.38" cy="351.60" r="1.45" fill="#ff0000" fill-opacity="0.3" stroke="#ff0000" stroke-width="0.85" stroke-opacity="0.85"/>
<circle cx="479.52" cy="352.20" r="1.45" fill="#ff0000" fill-opacity="0.3" stroke="#ff0000" stroke-width="0.85" stroke-opacity="0.85"/>
<circle cx="490.33" cy="352.20" r="1.45" fill="#ff0000" fill-opacity="0.3" stroke="#ff0000" stroke-width="0.85" stroke-opacity="0.85"/>
<circle cx="473.03" cy="352.90" r="1.45" fill="#ff0000" fill-opacity="0.3" stroke="#ff0000" stroke-width="0.85" stroke-opacity="0.85"/>
<circle cx="475.64" cy="352.90" r="1.45" fill="#ff0000" fill-opacity="0.3" stroke="#ff0000" stroke-width="0.85" stroke-opacity="0.85"/>
<circle cx="482.79" cy="353.50" r="1.45" fill="#ff0000" fill-opacity="0.3" stroke="#ff0000" stroke-width="0.85" stroke-opacity="0.85"/>
<circle cx="473.15" cy="353.50" r="1.45" fill="#ff0000" fill-opacity="0.3" stroke="#ff0000" stroke-width="0.85" stroke-opacity="0.85"/>
<circle cx="491.18" cy="354.00" r="1.45" fill="#ff0000" fill-opacity="0.3" stroke="#ff0000" stroke-width="0.85" stroke-opacity="0.85"/>
<circle cx="477.92" cy="354.00" r="1.45" fill="#ff0000" fill-opacity="0.3" stroke="#ff0000" stroke-width="0.85" stroke-opacity="0.85"/>
<circle cx="475.76" cy="355.00" r="1.45" fill="#ff0000" fill-opacity="0.3" stroke="#ff0000" stroke-width="0.85" stroke-opacity="0.85"/>
<circle cx="473.65" cy="355.00" r="1.45" fill="#ff0000" fill-opacity="0.3" stroke="#ff0000" stroke-width="0.85" stroke-opacity="0.85"/>
<circle cx="486.69" cy="356.80" r="1.45" fill="#ff0000" fill-opacity="0.3" stroke="#ff0000" stroke-width="0.85" stroke-opacity="0.85"/>
<circle cx="482.60" cy="356.80" r="1.45" fill="#ff0000" fill-opacity="0.3" stroke="#ff0000" stroke-width="0.85" stroke-opacity="0.85"/>
<circle cx="486.71" cy="358.50" r="1.45" fill="#ff0000" fill-opacity="0.3" stroke="#ff0000" stroke-width="0.85" stroke-opacity="0.85"/>
<circle cx="487.27" cy="358.50" r="1.45" fill="#ff0000" fill-opacity="0.3" stroke="#ff0000" stroke-width="0.85" stroke-opacity="0.85"/>
<circle cx="490.69" cy="360.70" r="1.45" fill="#ff0000" fill-opacity="0.3" stroke="#ff0000" stroke-width="0.85" stroke-opacity="0.85"/>
<circle cx="494.07" cy="360.70" r="1.45" fill="#ff0000" fill-opacity="0.3" stroke="#ff0000" stroke-width="0.85" stroke-opacity="0.85"/>
<circle cx="487.93" cy="362.00" r="1.45" fill="#ff0000" fill-opacity="0.3" stroke="#ff0000" stroke-width="0.85" stroke-opacity="0.85"/>
<circle cx="477.07" cy="362.00" r="1.45" fill="#ff0000" fill-opacity="0.3" stroke="#ff0000" stroke-width="0.85" stroke-opacity="0.85"/>
<circle cx="483.24" cy="364.00" r="1.45" fill="#ff0000" fill-opacity="0.3" stroke="#ff0000" stroke-width="0.85" stroke-opacity="0.85"/>
<circle cx="476.60" cy="364.00" r="1.45" fill="#ff0000" fill-opacity="0.3" stroke="#ff0000" stroke-width="0.85" stroke-opacity="0.85"/>
<circle cx="472.84" cy="366.00" r="1.45" fill="#ff0000" fill-opacity="0.3" stroke="#ff0000" stroke-width="0.85" stroke-opacity="0.85"/>
<circle cx="483.18" cy="366.00" r="1.45" fill="#ff0000" fill-opacity="0.3" stroke="#ff0000" stroke-width="0.85" stroke-opacity="0.85"/>
<circle cx="488.60" cy="370.50" r="1.45" fill="#ff0000" fill-opacity="0.3" stroke="#ff0000" stroke-width="0.85" stroke-opacity="0.85"/>
<circle cx="476.61" cy="370.50" r="1.45" fill="#ff0000" fill-opacity="0.3" stroke="#ff0000" stroke-width="0.85" stroke-opacity="0.85"/>
<circle cx="514.50" cy="230.50" r="1.45" fill="#a0a0a0" fill-opacity="0.3" stroke="#a0a0a0" stroke-width="0.85" stroke-opacity="0.75"/>
<circle cx="531.50" cy="230.50" r="1.45" fill="#a0a0a0" fill-opacity="0.3" stroke="#a0a0a0" stroke-width="0.85" stroke-opacity="0.75"/>
<circle cx="515.00" cy="236.40" r="1.45" fill="#a0a0a0" fill-opacity="0.3" stroke="#a0a0a0" stroke-width="0.85" stroke-opacity="0.75"/>
<circle cx="532.30" cy="236.40" r="1.45" fill="#a0a0a0" fill-opacity="0.3" stroke="#a0a0a0" stroke-width="0.85" stroke-opacity="0.75"/>
<circle cx="512.50" cy="244.50" r="1.45" fill="#a0a0a0" fill-opacity="0.3" stroke="#a0a0a0" stroke-width="0.85" stroke-opacity="0.75"/>
<circle cx="517.00" cy="244.50" r="1.45" fill="#a0a0a0" fill-opacity="0.3" stroke="#a0a0a0" stroke-width="0.85" stroke-opacity="0.75"/>
<circle cx="521.21" cy="253.30" r="1.45" fill="#a0a0a0" fill-opacity="0.3" stroke="#a0a0a0" stroke-width="0.85" stroke-opacity="0.75"/>
<circle cx="530.14" cy="253.30" r="1.45" fill="#a0a0a0" fill-opacity="0.3" stroke="#a0a0a0" stroke-width="0.85" stroke-opacity="0.75"/>
<circle cx="532.70" cy="255.50" r="1.45" fill="#a0a0a0" fill-opacity="0.3" stroke="#a0a0a0" stroke-width="0.85" stroke-opacity="0.75"/>
<circle cx="514.35" cy="255.50" r="1.45" fill="#a0a0a0" fill-opacity="0.3" stroke="#a0a0a0" stroke-width="0.85" stroke-opacity="0.75"/>
<circle cx="533.29" cy="259.00" r="1.45" fill="#a0a0a0" fill-opacity="0.3" stroke="#a0a0a0" stroke-width="0.85" stroke-opacity="0.75"/>
<circle cx="528.58" cy="259.00" r="1.45" fill="#a0a0a0" fill-opacity="0.3" stroke="#a0a0a0" stroke-width="0.85" stroke-opacity="0.75"/>
<circle cx="515.31" cy="262.70" r="1.45" fill="#a0a0a0" fill-opacity="0.3" stroke="#a0a0a0" stroke-width="0.85" stroke-opacity="0.75"/>
<circle cx="522.56" cy="262.70" r="1.45" fill="#a0a0a0" fill-opacity="0.3" stroke="#a0a0a0" stroke-width="0.85" stroke-opacity="0.75"/>
<circle cx="526.41" cy="264.00" r="1.45" fill="#a0a0a0" fill-opacity="0.3" stroke="#a0a0a0" stroke-width="0.85" stroke-opacity="0.75"/>
<circle cx="532.78" cy="264.00" r="1.45" fill="#a0a0a0" fill-opacity="0.3" stroke="#a0a0a0" stroke-width="0.85" stroke-opacity="0.75"/>
<circle cx="520.84" cy="266.30" r="1.45" fill="#a0a0a0" fill-opacity="0.3" stroke="#a0a0a0" stroke-width="0.85" stroke-opacity="0.75"/>
<circle cx="525.14" cy="266.30" r="1.45" fill="#a0a0a0" fill-opacity="0.3" stroke="#a0a0a0" stroke-width="0.85" stroke-opacity="0.75"/>
<circle cx="532.10" cy="267.20" r="1.45" fill="#a0a0a0" fill-opacity="0.3" stroke="#a0a0a0" stroke-width="0.85" stroke-opacity="0.75"/>
<circle cx="530.25" cy="267.20" r="1.45" fill="#a0a0a0" fill-opacity="0.3" stroke="#a0a0a0" stroke-width="0.85" stroke-opacity="0.75"/>
<circle cx="533.55" cy="269.80" r="1.45" fill="#a0a0a0" fill-opacity="0.3" stroke="#a0a0a0" stroke-width="0.85" stroke-opacity="0.75"/>
<circle cx="522.79" cy="269.80" r="1.45" fill="#a0a0a0" fill-opacity="0.3" stroke="#a0a0a0" stroke-width="0.85" stroke-opacity="0.75"/>
<circle cx="526.99" cy="270.60" r="1.45" fill="#a0a0a0" fill-opacity="0.3" stroke="#a0a0a0" stroke-width="0.85" stroke-opacity="0.75"/>
<circle cx="516.99" cy="270.60" r="1.45" fill="#a0a0a0" fill-opacity="0.3" stroke="#a0a0a0" stroke-width="0.85" stroke-opacity="0.75"/>
<circle cx="528.57" cy="273.20" r="1.45" fill="#a0a0a0" fill-opacity="0.3" stroke="#a0a0a0" stroke-width="0.85" stroke-opacity="0.75"/>
<circle cx="530.73" cy="273.20" r="1.45" fill="#a0a0a0" fill-opacity="0.3" stroke="#a0a0a0" stroke-width="0.85" stroke-opacity="0.75"/>
<circle cx="526.77" cy="276.00" r="1.45" fill="#a0a0a0" fill-opacity="0.3" stroke="#a0a0a0" stroke-width="0.85" stroke-opacity="0.75"/>
<circle cx="528.48" cy="276.00" r="1.45" fill="#a0a0a0" fill-opacity="0.3" stroke="#a0a0a0" stroke-width="0.85" stroke-opacity="0.75"/>
<circle cx="517.18" cy="279.00" r="1.45" fill="#a0a0a0" fill-opacity="0.3" stroke="#a0a0a0" stroke-width="0.85" stroke-opacity="0.75"/>
<circle cx="532.56" cy="279.00" r="1.45" fill="#a0a0a0" fill-opacity="0.3" stroke="#a0a0a0" stroke-width="0.85" stroke-opacity="0.75"/>
<circle cx="534.36" cy="282.00" r="1.45" fill="#a0a0a0" fill-opacity="0.3" stroke="#a0a0a0" stroke-width="0.85" stroke-opacity="0.75"/>
<circle cx="534.29" cy="282.00" r="1.45" fill="#a0a0a0" fill-opacity="0.3" stroke="#a0a0a0" stroke-width="0.85" stroke-opacity="0.75"/>
<circle cx="524.43" cy="286.60" r="1.45" fill="#a0a0a0" fill-opacity="0.3" stroke="#a0a0a0" stroke-width="0.85" stroke-opacity="0.75"/>
<circle cx="530.11" cy="286.60" r="1.45" fill="#a0a0a0" fill-opacity="0.3" stroke="#a0a0a0" stroke-width="0.85" stroke-opacity="0.75"/>
<circle cx="519.58" cy="288.00" r="1.45" fill="#a0a0a0" fill-opacity="0.3" stroke="#a0a0a0" stroke-width="0.85" stroke-opacity="0.75"/>
<circle cx="532.78" cy="288.00" r="1.45" fill="#a0a0a0" fill-opacity="0.3" stroke="#a0a0a0" stroke-width="0.85" stroke-opacity="0.75"/>
<circle cx="531.57" cy="290.80" r="1.45" fill="#a0a0a0" fill-opacity="0.3" stroke="#a0a0a0" stroke-width="0.85" stroke-opacity="0.75"/>
<circle cx="520.21" cy="290.80" r="1.45" fill="#a0a0a0" fill-opacity="0.3" stroke="#a0a0a0" stroke-width="0.85" stroke-opacity="0.75"/>
<circle cx="514.25" cy="291.40" r="1.45" fill="#a0a0a0" fill-opacity="0.3" stroke="#a0a0a0" stroke-width="0.85" stroke-opacity="0.75"/>
<circle cx="522.28" cy="291.40" r="1.45" fill="#a0a0a0" fill-opacity="0.3" stroke="#a0a0a0" stroke-width="0.85" stroke-opacity="0.75"/>
<circle cx="524.73" cy="294.47" r="1.45" fill="#a0a0a0" fill-opacity="0.3" stroke="#a0a0a0" stroke-width="0.85" stroke-opacity="0.75"/>
<circle cx="529.61" cy="294.47" r="1.45" fill="#a0a0a0" fill-opacity="0.3" stroke="#a0a0a0" stroke-width="0.85" stroke-opacity="0.75"/>
<circle cx="523.32" cy="296.00" r="1.45" fill="#a0a0a0" fill-opacity="0.3" stroke="#a0a0a0" stroke-width="0.85" stroke-opacity="0.75"/>
<circle cx="513.04" cy="296.00" r="1.45" fill="#a0a0a0" fill-opacity="0.3" stroke="#a0a0a0" stroke-width="0.85" stroke-opacity="0.75"/>
<circle cx="530.52" cy="297.54" r="1.45" fill="#a0a0a0" fill-opacity="0.3" stroke="#a0a0a0" stroke-width="0.85" stroke-opacity="0.75"/>
<circle cx="513.83" cy="297.54" r="1.45" fill="#a0a0a0" fill-opacity="0.3" stroke="#a0a0a0" stroke-width="0.85" stroke-opacity="0.75"/>
<circle cx="530.32" cy="299.07" r="1.45" fill="#a0a0a0" fill-opacity="0.3" stroke="#a0a0a0" stroke-width="0.85" stroke-opacity="0.75"/>
<circle cx="516.27" cy="299.07" r="1.45" fill="#a0a0a0" fill-opacity="0.3" stroke="#a0a0a0" stroke-width="0.85" stroke-opacity="0.75"/>
<circle cx="519.90" cy="300.61" r="1.45" fill="#a0a0a0" fill-opacity="0.3" stroke="#a0a0a0" stroke-width="0.85" stroke-opacity="0.75"/>
<circle cx="530.05" cy="300.61" r="1.45" fill="#a0a0a0" fill-opacity="0.3" stroke="#a0a0a0" stroke-width="0.85" stroke-opacity="0.75"/>
<circle cx="515.55" cy="302.14" r="1.45" fill="#a0a0a0" fill-opacity="0.3" stroke="#a0a0a0" stroke-width="0.85" stroke-opacity="0.75"/>
<circle cx="515.73" cy="302.14" r="1.45" fill="#a0a0a0" fill-opacity="0.3" stroke="#a0a0a0" stroke-width="0.85" stroke-opacity="0.75"/>
<circle cx="523.97" cy="303.68" r="1.45" fill="#a0a0a0" fill-opacity="0.3" stroke="#a0a0a0" stroke-width="0.85" stroke-opacity="0.75"/>
<circle cx="528.61" cy="303.68" r="1.45" fill="#a0a0a0" fill-opacity="0.3" stroke="#a0a0a0" stroke-width="0.85" stroke-opacity="0.75"/>
<circle cx="531.22" cy="305.21" r="1.45" fill="#a0a0a0" fill-opacity="0.3" stroke="#a0a0a0" stroke-width="0.85" stroke-opacity="0.75"/>
<circle cx="527.84" cy="305.21" r="1.45" fill="#a0a0a0" fill-opacity="0.3" stroke="#a0a0a0" stroke-width="0.85" stroke-opacity="0.75"/>
<circle cx="533.58" cy="306.75" r="1.45" fill="#a0a0a0" fill-opacity="0.3" stroke="#a0a0a0" stroke-width="0.85" stroke-opacity="0.75"/>
<circle cx="523.43" cy="306.75" r="1.45" fill="#a0a0a0" fill-opacity="0.3" stroke="#a0a0a0" stroke-width="0.85" stroke-opacity="0.75"/>
<circle cx="533.66" cy="308.28" r="1.45" fill="#a0a0a0" fill-opacity="0.3" stroke="#a0a0a0" stroke-width="0.85" stroke-opacity="0.75"/>
<circle cx="514.33" cy="308.28" r="1.45" fill="#a0a0a0" fill-opacity="0.3" stroke="#a0a0a0" stroke-width="0.85" stroke-opacity="0.75"/>
<circle cx="517.36" cy="309.82" r="1.45" fill="#a0a0a0" fill-opacity="0.3" stroke="#a0a0a0" stroke-width="0.85" stroke-opacity="0.75"/>
<circle cx="524.20" cy="309.82" r="1.45" fill="#a0a0a0" fill-opacity="0.3" stroke="#a0a0a0" stroke-width="0.85" stroke-opacity="0.75"/>
<circle cx="518.90" cy="311.35" r="1.45" fill="#a0a0a0" fill-opacity="0.3" stroke="#a0a0a0" stroke-width="0.85" stroke-opacity="0.75"/>
<circle cx="528.73" cy="311.35" r="1.45" fill="#a0a0a0" fill-opacity="0.3" stroke="#a0a0a0" stroke-width="0.85" stroke-opacity="0.75"/>
<circle cx="526.71" cy="312.89" r="1.45" fill="#a0a0a0" fill-opacity="0.3" stroke="#a0a0a0" stroke-width="0.85" stroke-opacity="0.75"/>
<circle cx="524.11" cy="312.89" r="1.45" fill="#a0a0a0" fill-opacity="0.3" stroke="#a0a0a0" stroke-width="0.85" stroke-opacity="0.75"/>
<circle cx="531.30" cy="314.42" r="1.45" fill="#a0a0a0" fill-opacity="0.3" stroke="#a0a0a0" stroke-width="0.85" stroke-opacity="0.75"/>
<circle cx="524.94" cy="314.42" r="1.45" fill="#a0a0a0" fill-opacity="0.3" stroke="#a0a0a0" stroke-width="0.85" stroke-opacity="0.75"/>
<circle cx="519.38" cy="315.96" r="1.45" fill="#a0a0a0" fill-opacity="0.3" stroke="#a0a0a0" stroke-width="0.85" stroke-opacity="0.75"/>
<circle cx="520.94" cy="315.96" r="1.45" fill="#a0a0a0" fill-opacity="0.3" stroke="#a0a0a0" stroke-width="0.85" stroke-opacity="0.75"/>
<circle cx="531.33" cy="317.49" r="1.45" fill="#a0a0a0" fill-opacity="0.3" stroke="#a0a0a0" stroke-width="0.85" stroke-opacity="0.75"/>
<circle cx="532.57" cy="317.49" r="1.45" fill="#a0a0a0" fill-opacity="0.3" stroke="#a0a0a0" stroke-width="0.85" stroke-opacity="0.75"/>
<circle cx="517.06" cy="319.03" r="1.45" fill="#a0a0a0" fill-opacity="0.3" stroke="#a0a0a0" stroke-width="0.85" stroke-opacity="0.75"/>
<circle cx="531.46" cy="319.03" r="1.45" fill="#a0a0a0" fill-opacity="0.3" stroke="#a0a0a0" stroke-width="0.85" stroke-opacity="0.75"/>
<circle cx="534.09" cy="320.56" r="1.45" fill="#a0a0a0" fill-opacity="0.3" stroke="#a0a0a0" stroke-width="0.85" stroke-opacity="0.75"/>
<circle cx="524.14" cy="320.56" r="1.45" fill="#a0a0a0" fill-opacity="0.3" stroke="#a0a0a0" stroke-width="0.85" stroke-opacity="0.75"/>
<circle cx="525.23" cy="322.10" r="1.45" fill="#a0a0a0" fill-opacity="0.3" stroke="#a0a0a0" stroke-width="0.85" stroke-opacity="0.75"/>
<circle cx="516.90" cy="322.10" r="1.45" fill="#a0a0a0" fill-opacity="0.3" stroke="#a0a0a0" stroke-width="0.85" stroke-opacity="0.75"/>
<circle cx="524.40" cy="323.63" r="1.45" fill="#a0a0a0" fill-opacity="0.3" stroke="#a0a0a0" stroke-width="0.85" stroke-opacity="0.75"/>
<circle cx="523.67" cy="323.63" r="1.45" fill="#a0a0a0" fill-opacity="0.3" stroke="#a0a0a0" stroke-width="0.85" stroke-opacity="0.75"/>
<circle cx="525.96" cy="324.84" r="1.45" fill="#a0a0a0" fill-opacity="0.3" stroke="#a0a0a0" stroke-width="0.85" stroke-opacity="0.75"/>
<circle cx="513.02" cy="324.84" r="1.45" fill="#a0a0a0" fill-opacity="0.3" stroke="#a0a0a0" stroke-width="0.85" stroke-opacity="0.75"/>
<circle cx="534.11" cy="325.72" r="1.45" fill="#a0a0a0" fill-opacity="0.3" stroke="#a0a0a0" stroke-width="0.85" stroke-opacity="0.75"/>
<circle cx="523.96" cy="325.72" r="1.45" fill="#a0a0a0" fill-opacity="0.3" stroke="#a0a0a0" stroke-width="0.85" stroke-opacity="0.75"/>
<circle cx="521.37" cy="326.60" r="1.45" fill="#a0a0a0" fill-opacity="0.3" stroke="#a0a0a0" stroke-width="0.85" stroke-opacity="0.75"/>
<circle cx="530.34" cy="326.60" r="1.45" fill="#a0a0a0" fill-opacity="0.3" stroke="#a0a0a0" stroke-width="0.85" stroke-opacity="0.75"/>
<circle cx="525.01" cy="327.48" r="1.45" fill="#a0a0a0" fill-opacity="0.3" stroke="#a0a0a0" stroke-width="0.85" stroke-opacity="0.75"/>
<circle cx="523.40" cy="327.48" r="1.45" fill="#a0a0a0" fill-opacity="0.3" stroke="#a0a0a0" stroke-width="0.85" stroke-opacity="0.75"/>
<circle cx="527.88" cy="328.36" r="1.45" fill="#a0a0a0" fill-opacity="0.3" stroke="#a0a0a0" stroke-width="0.85" stroke-opacity="0.75"/>
<circle cx="513.88" cy="328.36" r="1.45" fill="#a0a0a0" fill-opacity="0.3" stroke="#a0a0a0" stroke-width="0.85" stroke-opacity="0.75"/>
<circle cx="524.47" cy="329.25" r="1.45" fill="#a0a0a0" fill-opacity="0.3" stroke="#a0a0a0" stroke-width="0.85" stroke-opacity="0.75"/>
<circle cx="521.67" cy="329.25" r="1.45" fill="#a0a0a0" fill-opacity="0.3" stroke="#a0a0a0" stroke-width="0.85" stroke-opacity="0.75"/>
<circle cx="533.83" cy="330.13" r="1.45" fill="#a0a0a0" fill-opacity="0.3" stroke="#a0a0a0" stroke-width="0.85" stroke-opacity="0.75"/>
<circle cx="533.08" cy="330.13" r="1.45" fill="#a0a0a0" fill-opacity="0.3" stroke="#a0a0a0" stroke-width="0.85" stroke-opacity="0.75"/>
<circle cx="518.43" cy="331.01" r="1.45" fill="#a0a0a0" fill-opacity="0.3" stroke="#a0a0a0" stroke-width="0.85" stroke-opacity="0.75"/>
<circle cx="523.00" cy="331.01" r="1.45" fill="#a0a0a0" fill-opacity="0.3" stroke="#a0a0a0" stroke-width="0.85" stroke-opacity="0.75"/>
<circle cx="515.24" cy="331.89" r="1.45" fill="#a0a0a0" fill-opacity="0.3" stroke="#a0a0a0" stroke-width="0.85" stroke-opacity="0.75"/>
<circle cx="522.11" cy="331.89" r="1.45" fill="#a0a0a0" fill-opacity="0.3" stroke="#a0a0a0" stroke-width="0.85" stroke-opacity="0.75"/>
<circle cx="530.67" cy="332.77" r="1.45" fill="#a0a0a0" fill-opacity="0.3" stroke="#a0a0a0" stroke-width="0.85" stroke-opacity="0.75"/>
<circle cx="532.57" cy="332.77" r="1.45" fill="#a0a0a0" fill-opacity="0.3" stroke="#a0a0a0" stroke-width="0.85" stroke-opacity="0.75"/>
<circle cx="523.07" cy="333.65" r="1.45" fill="#a0a0a0" fill-opacity="0.3" stroke="#a0a0a0" stroke-width="0.85" stroke-opacity="0.75"/>
<circle cx="519.51" cy="333.65" r="1.45" fill="#a0a0a0" fill-opacity="0.3" stroke="#a0a0a0" stroke-width="0.85" stroke-opacity="0.75"/>
<circle cx="516.69" cy="334.53" r="1.45" fill="#a0a0a0" fill-opacity="0.3" stroke="#a0a0a0" stroke-width="0.85" stroke-opacity="0.75"/>
<circle cx="526.24" cy="334.53" r="1.45" fill="#a0a0a0" fill-opacity="0.3" stroke="#a0a0a0" stroke-width="0.85" stroke-opacity="0.75"/>
<circle cx="533.13" cy="335.41" r="1.45" fill="#a0a0a0" fill-opacity="0.3" stroke="#a0a0a0" stroke-width="0.85" stroke-opacity="0.75"/>
<circle cx="515.30" cy="335.41" r="1.45" fill="#a0a0a0" fill-opacity="0.3" stroke="#a0a0a0" stroke-width="0.85" stroke-opacity="0.75"/>
<circle cx="529.86" cy="336.29" r="1.45" fill="#a0a0a0" fill-opacity="0.3" stroke="#a0a0a0" stroke-width="0.85" stroke-opacity="0.75"/>
<circle cx="512.91" cy="336.29" r="1.45" fill="#a0a0a0" fill-opacity="0.3" stroke="#a0a0a0" stroke-width="0.85" stroke-opacity="0.75"/>
<circle cx="516.75" cy="337.17" r="1.45" fill="#a0a0a0" fill-opacity="0.3" stroke="#a0a0a0" stroke-width="0.85" stroke-opacity="0.75"/>
<circle cx="517.49" cy="337.17" r="1.45" fill="#a0a0a0" fill-opacity="0.3" stroke="#a0a0a0" stroke-width="0.85" stroke-opacity="0.75"/>
<circle cx="527.79" cy="338.05" r="1.45" fill="#a0a0a0" fill-opacity="0.3" stroke="#a0a0a0" stroke-width="0.85" stroke-opacity="0.75"/>
<circle cx="519.61" cy="338.05" r="1.45" fill="#a0a0a0" fill-opacity="0.3" stroke="#a0a0a0" stroke-width="0.85" stroke-opacity="0.75"/>
<circle cx="520.36" cy="338.94" r="1.45" fill="#a0a0a0" fill-opacity="0.3" stroke="#a0a0a0" stroke-width="0.85" stroke-opacity="0.75"/>
<circle cx="526.28" cy="338.94" r="1.45" fill="#a0a0a0" fill-opacity="0.3" stroke="#a0a0a0" stroke-width="0.85" stroke-opacity="0.75"/>
<circle cx="514.75" cy="339.82" r="1.45" fill="#a0a0a0" fill-opacity="0.3" stroke="#a0a0a0" stroke-width="0.85" stroke-opacity="0.75"/>
<circle cx="528.77" cy="339.82" r="1.45" fill="#a0a0a0" fill-opacity="0.3" stroke="#a0a0a0" stroke-width="0.85" stroke-opacity="0.75"/>
<circle cx="515.15" cy="340.70" r="1.45" fill="#a0a0a0" fill-opacity="0.3" stroke="#a0a0a0" stroke-width="0.85" stroke-opacity="0.75"/>
<circle cx="523.83" cy="340.70" r="1.45" fill="#a0a0a0" fill-opacity="0.3" stroke="#a0a0a0" stroke-width="0.85" stroke-opacity="0.75"/>
<circle cx="518.01" cy="341.58" r="1.45" fill="#a0a0a0" fill-opacity="0.3" stroke="#a0a0a0" stroke-width="0.85" stroke-opacity="0.75"/>
<circle cx="516.83" cy="341.58" r="1.45" fill="#a0a0a0" fill-opacity="0.3" stroke="#a0a0a0" stroke-width="0.85" stroke-opacity="0.75"/>
<circle cx="524.28" cy="342.46" r="1.45" fill="#a0a0a0" fill-opacity="0.3" stroke="#a0a0a0" stroke-width="0.85" stroke-opacity="0.75"/>
<circle cx="522.18" cy="342.46" r="1.45" fill="#a0a0a0" fill-opacity="0.3" stroke="#a0a0a0" stroke-width="0.85" stroke-opacity="0.75"/>
<circle cx="520.82" cy="342.98" r="1.45" fill="#a0a0a0" fill-opacity="0.3" stroke="#a0a0a0" stroke-width="0.85" stroke-opacity="0.75"/>
<circle cx="521.66" cy="342.98" r="1.45" fill="#a0a0a0" fill-opacity="0.3" stroke="#a0a0a0" stroke-width="0.85" stroke-opacity="0.75"/>
<circle cx="524.26" cy="343.34" r="1.45" fill="#a0a0a0" fill-opacity="0.3" stroke="#a0a0a0" stroke-width="0.85" stroke-opacity="0.75"/>
<circle cx="515.98" cy="343.34" r="1.45" fill="#a0a0a0" fill-opacity="0.3" stroke="#a0a0a0" stroke-width="0.85" stroke-opacity="0.75"/>
<circle cx="516.98" cy="343.90" r="1.45" fill="#a0a0a0" fill-opacity="0.3" stroke="#a0a0a0" stroke-width="0.85" stroke-opacity="0.75"/>
<circle cx="526.54" cy="343.90" r="1.45" fill="#a0a0a0" fill-opacity="0.3" stroke="#a0a0a0" stroke-width="0.85" stroke-opacity="0.75"/>
<circle cx="526.70" cy="344.61" r="1.45" fill="#a0a0a0" fill-opacity="0.3" stroke="#a0a0a0" stroke-width="0.85" stroke-opacity="0.75"/>
<circle cx="524.26" cy="344.61" r="1.45" fill="#a0a0a0" fill-opacity="0.3" stroke="#a0a0a0" stroke-width="0.85" stroke-opacity="0.75"/>
<circle cx="531.47" cy="345.46" r="1.45" fill="#a0a0a0" fill-opacity="0.3" stroke="#a0a0a0" stroke-width="0.85" stroke-opacity="0.75"/>
<circle cx="526.10" cy="345.46" r="1.45" fill="#a0a0a0" fill-opacity="0.3" stroke="#a0a0a0" stroke-width="0.85" stroke-opacity="0.75"/>
<circle cx="531.59" cy="346.42" r="1.45" fill="#a0a0a0" fill-opacity="0.3" stroke="#a0a0a0" stroke-width="0.85" stroke-opacity="0.75"/>
<circle cx="517.61" cy="346.42" r="1.45" fill="#a0a0a0" fill-opacity="0.3" stroke="#a0a0a0" stroke-width="0.85" stroke-opacity="0.75"/>
<circle cx="528.99" cy="347.50" r="1.45" fill="#a0a0a0" fill-opacity="0.3" stroke="#a0a0a0" stroke-width="0.85" stroke-opacity="0.75"/>
<circle cx="530.56" cy="347.50" r="1.45" fill="#a0a0a0" fill-opacity="0.3" stroke="#a0a0a0" stroke-width="0.85" stroke-opacity="0.75"/>
<circle cx="532.62" cy="348.69" r="1.45" fill="#a0a0a0" fill-opacity="0.3" stroke="#a0a0a0" stroke-width="0.85" stroke-opacity="0.75"/>
<circle cx="519.48" cy="348.69" r="1.45" fill="#a0a0a0" fill-opacity="0.3" stroke="#a0a0a0" stroke-width="0.85" stroke-opacity="0.75"/>
<circle cx="519.46" cy="349.97" r="1.45" fill="#a0a0a0" fill-opacity="0.3" stroke="#a0a0a0" stroke-width="0.85" stroke-opacity="0.75"/>
<circle cx="533.07" cy="349.97" r="1.45" fill="#a0a0a0" fill-opacity="0.3" stroke="#a0a0a0" stroke-width="0.85" stroke-opacity="0.75"/>
<circle cx="517.29" cy="351.35" r="1.45" fill="#a0a0a0" fill-opacity="0.3" stroke="#a0a0a0" stroke-width="0.85" stroke-opacity="0.75"/>
<circle cx="534.76" cy="351.35" r="1.45" fill="#a0a0a0" fill-opacity="0.3" stroke="#a0a0a0" stroke-width="0.85" stroke-opacity="0.75"/>
<circle cx="532.28" cy="352.82" r="1.45" fill="#a0a0a0" fill-opacity="0.3" stroke="#a0a0a0" stroke-width="0.85" stroke-opacity="0.75"/>
<circle cx="515.40" cy="352.82" r="1.45" fill="#a0a0a0" fill-opacity="0.3" stroke="#a0a0a0" stroke-width="0.85" stroke-opacity="0.75"/>
<circle cx="517.76" cy="354.37" r="1.45" fill="#a0a0a0" fill-opacity="0.3" stroke="#a0a0a0" stroke-width="0.85" stroke-opacity="0.75"/>
<circle cx="528.68" cy="354.37" r="1.45" fill="#a0a0a0" fill-opacity="0.3" stroke="#a0a0a0" stroke-width="0.85" stroke-opacity="0.75"/>
<circle cx="518.21" cy="356.01" r="1.45" fill="#a0a0a0" fill-opacity="0.3" stroke="#a0a0a0" stroke-width="0.85" stroke-opacity="0.75"/>
<circle cx="514.57" cy="356.01" r="1.45" fill="#a0a0a0" fill-opacity="0.3" stroke="#a0a0a0" stroke-width="0.85" stroke-opacity="0.75"/>
<circle cx="531.04" cy="357.72" r="1.45" fill="#a0a0a0" fill-opacity="0.3" stroke="#a0a0a0" stroke-width="0.85" stroke-opacity="0.75"/>
<circle cx="521.84" cy="357.72" r="1.45" fill="#a0a0a0" fill-opacity="0.3" stroke="#a0a0a0" stroke-width="0.85" stroke-opacity="0.75"/>
<circle cx="530.09" cy="359.52" r="1.45" fill="#a0a0a0" fill-opacity="0.3" stroke="#a0a0a0" stroke-width="0.85" stroke-opacity="0.75"/>
<circle cx="515.22" cy="359.52" r="1.45" fill="#a0a0a0" fill-opacity="0.3" stroke="#a0a0a0" stroke-width="0.85" stroke-opacity="0.75"/>
<circle cx="521.42" cy="361.39" r="1.45" fill="#a0a0a0" fill-opacity="0.3" stroke="#a0a0a0" stroke-width="0.85" stroke-opacity="0.75"/>
<circle cx="527.75" cy="361.39" r="1.45" fill="#a0a0a0" fill-opacity="0.3" stroke="#a0a0a0" stroke-width="0.85" stroke-opacity="0.75"/>
<circle cx="512.80" cy="363.33" r="1.45" fill="#a0a0a0" fill-opacity="0.3" stroke="#a0a0a0" stroke-width="0.85" stroke-opacity="0.75"/>
<circle cx="516.90" cy="363.33" r="1.45" fill="#a0a0a0" fill-opacity="0.3" stroke="#a0a0a0" stroke-width="0.85" stroke-opacity="0.75"/>
<circle cx="527.69" cy="365.35" r="1.45" fill="#a0a0a0" fill-opacity="0.3" stroke="#a0a0a0" stroke-width="0.85" stroke-opacity="0.75"/>
<circle cx="532.81" cy="365.35" r="1.45" fill="#a0a0a0" fill-opacity="0.3" stroke="#a0a0a0" stroke-width="0.85" stroke-opacity="0.75"/>
<circle cx="534.09" cy="367.44" r="1.45" fill="#a0a0a0" fill-opacity="0.3" stroke="#a0a0a0" stroke-width="0.85" stroke-opacity="0.75"/>
<circle cx="514.99" cy="367.44" r="1.45" fill="#a0a0a0" fill-opacity="0.3" stroke="#a0a0a0" stroke-width="0.85" stroke-opacity="0.75"/>
<circle cx="523.73" cy="369.60" r="1.45" fill="#a0a0a0" fill-opacity="0.3" stroke="#a0a0a0" stroke-width="0.85" stroke-opacity="0.75"/>
<circle cx="529.38" cy="369.60" r="1.45" fill="#a0a0a0" fill-opacity="0.3" stroke="#a0a0a0" stroke-width="0.85" stroke-opacity="0.75"/>
<circle cx="555.30" cy="253.20" r="1.45" fill="#0000ff" fill-opacity="0.3" stroke="#0000ff" stroke-width="0.85" stroke-opacity="0.85"/>
<circle cx="559.30" cy="253.20" r="1.45" fill="#0000ff" fill-opacity="0.3" stroke="#0000ff" stroke-width="0.85" stroke-opacity="0.85"/>
<circle cx="543.80" cy="263.00" r="1.45" fill="#0000ff" fill-opacity="0.3" stroke="#0000ff" stroke-width="0.85" stroke-opacity="0.85"/>
<circle cx="559.80" cy="263.00" r="1.45" fill="#0000ff" fill-opacity="0.3" stroke="#0000ff" stroke-width="0.85" stroke-opacity="0.85"/>
<circle cx="543.58" cy="276.60" r="1.45" fill="#0000ff" fill-opacity="0.3" stroke="#0000ff" stroke-width="0.85" stroke-opacity="0.85"/>
<circle cx="542.04" cy="276.60" r="1.45" fill="#0000ff" fill-opacity="0.3" stroke="#0000ff" stroke-width="0.85" stroke-opacity="0.85"/>
<circle cx="553.56" cy="277.90" r="1.45" fill="#0000ff" fill-opacity="0.3" stroke="#0000ff" stroke-width="0.85" stroke-opacity="0.85"/>
<circle cx="552.73" cy="277.90" r="1.45" fill="#0000ff" fill-opacity="0.3" stroke="#0000ff" stroke-width="0.85" stroke-opacity="0.85"/>
<circle cx="553.94" cy="278.50" r="1.45" fill="#0000ff" fill-opacity="0.3" stroke="#0000ff" stroke-width="0.85" stroke-opacity="0.85"/>
<circle cx="544.48" cy="278.50" r="1.45" fill="#0000ff" fill-opacity="0.3" stroke="#0000ff" stroke-width="0.85" stroke-opacity="0.85"/>
<circle cx="545.33" cy="279.60" r="1.45" fill="#0000ff" fill-opacity="0.3" stroke="#0000ff" stroke-width="0.85" stroke-opacity="0.85"/>
<circle cx="545.77" cy="279.60" r="1.45" fill="#0000ff" fill-opacity="0.3" stroke="#0000ff" stroke-width="0.85" stroke-opacity="0.85"/>
<circle cx="560.02" cy="280.20" r="1.45" fill="#0000ff" fill-opacity="0.3" stroke="#0000ff" stroke-width="0.85" stroke-opacity="0.85"/>
<circle cx="563.38" cy="280.20" r="1.45" fill="#0000ff" fill-opacity="0.3" stroke="#0000ff" stroke-width="0.85" stroke-opacity="0.85"/>
<circle cx="561.96" cy="282.20" r="1.45" fill="#0000ff" fill-opacity="0.3" stroke="#0000ff" stroke-width="0.85" stroke-opacity="0.85"/>
<circle cx="543.33" cy="282.20" r="1.45" fill="#0000ff" fill-opacity="0.3" stroke="#0000ff" stroke-width="0.85" stroke-opacity="0.85"/>
<circle cx="542.59" cy="284.40" r="1.45" fill="#0000ff" fill-opacity="0.3" stroke="#0000ff" stroke-width="0.85" stroke-opacity="0.85"/>
<circle cx="562.51" cy="284.40" r="1.45" fill="#0000ff" fill-opacity="0.3" stroke="#0000ff" stroke-width="0.85" stroke-opacity="0.85"/>
<circle cx="551.55" cy="287.70" r="1.45" fill="#0000ff" fill-opacity="0.3" stroke="#0000ff" stroke-width="0.85" stroke-opacity="0.85"/>
<circle cx="558.33" cy="287.70" r="1.45" fill="#0000ff" fill-opacity="0.3" stroke="#0000ff" stroke-width="0.85" stroke-opacity="0.85"/>
<circle cx="548.52" cy="291.02" r="1.45" fill="#0000ff" fill-opacity="0.3" stroke="#0000ff" stroke-width="0.85" stroke-opacity="0.85"/>
<circle cx="551.66" cy="291.02" r="1.45" fill="#0000ff" fill-opacity="0.3" stroke="#0000ff" stroke-width="0.85" stroke-opacity="0.85"/>
<circle cx="552.74" cy="293.67" r="1.45" fill="#0000ff" fill-opacity="0.3" stroke="#0000ff" stroke-width="0.85" stroke-opacity="0.85"/>
<circle cx="550.83" cy="293.67" r="1.45" fill="#0000ff" fill-opacity="0.3" stroke="#0000ff" stroke-width="0.85" stroke-opacity="0.85"/>
<circle cx="554.66" cy="296.31" r="1.45" fill="#0000ff" fill-opacity="0.3" stroke="#0000ff" stroke-width="0.85" stroke-opacity="0.85"/>
<circle cx="541.50" cy="296.31" r="1.45" fill="#0000ff" fill-opacity="0.3" stroke="#0000ff" stroke-width="0.85" stroke-opacity="0.85"/>
<circle cx="556.90" cy="298.96" r="1.45" fill="#0000ff" fill-opacity="0.3" stroke="#0000ff" stroke-width="0.85" stroke-opacity="0.85"/>
<circle cx="560.11" cy="298.96" r="1.45" fill="#0000ff" fill-opacity="0.3" stroke="#0000ff" stroke-width="0.85" stroke-opacity="0.85"/>
<circle cx="545.26" cy="301.60" r="1.45" fill="#0000ff" fill-opacity="0.3" stroke="#0000ff" stroke-width="0.85" stroke-opacity="0.85"/>
<circle cx="551.37" cy="301.60" r="1.45" fill="#0000ff" fill-opacity="0.3" stroke="#0000ff" stroke-width="0.85" stroke-opacity="0.85"/>
<circle cx="557.76" cy="304.24" r="1.45" fill="#0000ff" fill-opacity="0.3" stroke="#0000ff" stroke-width="0.85" stroke-opacity="0.85"/>
<circle cx="550.28" cy="304.24" r="1.45" fill="#0000ff" fill-opacity="0.3" stroke="#0000ff" stroke-width="0.85" stroke-opacity="0.85"/>
<circle cx="545.57" cy="306.89" r="1.45" fill="#0000ff" fill-opacity="0.3" stroke="#0000ff" stroke-width="0.85" stroke-opacity="0.85"/>
<circle cx="544.90" cy="306.89" r="1.45" fill="#0000ff" fill-opacity="0.3" stroke="#0000ff" stroke-width="0.85" stroke-opacity="0.85"/>
<circle cx="552.68" cy="309.53" r="1.45" fill="#0000ff" fill-opacity="0.3" stroke="#0000ff" stroke-width="0.85" stroke-opacity="0.85"/>
<circle cx="541.55" cy="309.53" r="1.45" fill="#0000ff" fill-opacity="0.3" stroke="#0000ff" stroke-width="0.85" stroke-opacity="0.85"/>
<circle cx="561.21" cy="312.18" r="1.45" fill="#0000ff" fill-opacity="0.3" stroke="#0000ff" stroke-width="0.85" stroke-opacity="0.85"/>
<circle cx="559.16" cy="312.18" r="1.45" fill="#0000ff" fill-opacity="0.3" stroke="#0000ff" stroke-width="0.85" stroke-opacity="0.85"/>
<circle cx="556.98" cy="315.03" r="1.45" fill="#0000ff" fill-opacity="0.3" stroke="#0000ff" stroke-width="0.85" stroke-opacity="0.85"/>
<circle cx="560.48" cy="315.03" r="1.45" fill="#0000ff" fill-opacity="0.3" stroke="#0000ff" stroke-width="0.85" stroke-opacity="0.85"/>
<circle cx="555.30" cy="318.08" r="1.45" fill="#0000ff" fill-opacity="0.3" stroke="#0000ff" stroke-width="0.85" stroke-opacity="0.85"/>
<circle cx="550.26" cy="318.08" r="1.45" fill="#0000ff" fill-opacity="0.3" stroke="#0000ff" stroke-width="0.85" stroke-opacity="0.85"/>
<circle cx="554.63" cy="321.14" r="1.45" fill="#0000ff" fill-opacity="0.3" stroke="#0000ff" stroke-width="0.85" stroke-opacity="0.85"/>
<circle cx="552.50" cy="321.14" r="1.45" fill="#0000ff" fill-opacity="0.3" stroke="#0000ff" stroke-width="0.85" stroke-opacity="0.85"/>
<circle cx="563.21" cy="324.19" r="1.45" fill="#0000ff" fill-opacity="0.3" stroke="#0000ff" stroke-width="0.85" stroke-opacity="0.85"/>
<circle cx="559.23" cy="324.19" r="1.45" fill="#0000ff" fill-opacity="0.3" stroke="#0000ff" stroke-width="0.85" stroke-opacity="0.85"/>
<circle cx="546.99" cy="327.25" r="1.45" fill="#0000ff" fill-opacity="0.3" stroke="#0000ff" stroke-width="0.85" stroke-opacity="0.85"/>
<circle cx="561.61" cy="327.25" r="1.45" fill="#0000ff" fill-opacity="0.3" stroke="#0000ff" stroke-width="0.85" stroke-opacity="0.85"/>
<circle cx="557.88" cy="330.31" r="1.45" fill="#0000ff" fill-opacity="0.3" stroke="#0000ff" stroke-width="0.85" stroke-opacity="0.85"/>
<circle cx="558.63" cy="330.31" r="1.45" fill="#0000ff" fill-opacity="0.3" stroke="#0000ff" stroke-width="0.85" stroke-opacity="0.85"/>
<circle cx="559.45" cy="333.36" r="1.45" fill="#0000ff" fill-opacity="0.3" stroke="#0000ff" stroke-width="0.85" stroke-opacity="0.85"/>
<circle cx="550.29" cy="333.36" r="1.45" fill="#0000ff" fill-opacity="0.3" stroke="#0000ff" stroke-width="0.85" stroke-opacity="0.85"/>
<circle cx="561.28" cy="336.42" r="1.45" fill="#0000ff" fill-opacity="0.3" stroke="#0000ff" stroke-width="0.85" stroke-opacity="0.85"/>
<circle cx="560.91" cy="336.42" r="1.45" fill="#0000ff" fill-opacity="0.3" stroke="#0000ff" stroke-width="0.85" stroke-opacity="0.85"/>
<circle cx="556.76" cy="339.47" r="1.45" fill="#0000ff" fill-opacity="0.3" stroke="#0000ff" stroke-width="0.85" stroke-opacity="0.85"/>
<circle cx="558.39" cy="339.47" r="1.45" fill="#0000ff" fill-opacity="0.3" stroke="#0000ff" stroke-width="0.85" stroke-opacity="0.85"/>
<circle cx="558.34" cy="343.30" r="1.45" fill="#0000ff" fill-opacity="0.3" stroke="#0000ff" stroke-width="0.85" stroke-opacity="0.85"/>
<circle cx="550.29" cy="343.30" r="1.45" fill="#0000ff" fill-opacity="0.3" stroke="#0000ff" stroke-width="0.85" stroke-opacity="0.85"/>
<circle cx="557.39" cy="346.53" r="1.45" fill="#0000ff" fill-opacity="0.3" stroke="#0000ff" stroke-width="0.85" stroke-opacity="0.85"/>
<circle cx="542.78" cy="346.53" r="1.45" fill="#0000ff" fill-opacity="0.3" stroke="#0000ff" stroke-width="0.85" stroke-opacity="0.85"/>
<circle cx="548.85" cy="349.32" r="1.45" fill="#0000ff" fill-opacity="0.3" stroke="#0000ff" stroke-width="0.85" stroke-opacity="0.85"/>
<circle cx="551.70" cy="349.32" r="1.45" fill="#0000ff" fill-opacity="0.3" stroke="#0000ff" stroke-width="0.85" stroke-opacity="0.85"/>
<circle cx="541.44" cy="351.89" r="1.45" fill="#0000ff" fill-opacity="0.3" stroke="#0000ff" stroke-width="0.85" stroke-opacity="0.85"/>
<circle cx="549.17" cy="351.89" r="1.45" fill="#0000ff" fill-opacity="0.3" stroke="#0000ff" stroke-width="0.85" stroke-opacity="0.85"/>
<circle cx="555.51" cy="354.32" r="1.45" fill="#0000ff" fill-opacity="0.3" stroke="#0000ff" stroke-width="0.85" stroke-opacity="0.85"/>
<circle cx="555.18" cy="354.32" r="1.45" fill="#0000ff" fill-opacity="0.3" stroke="#0000ff" stroke-width="0.85" stroke-opacity="0.85"/>
<circle cx="546.40" cy="356.64" r="1.45" fill="#0000ff" fill-opacity="0.3" stroke="#0000ff" stroke-width="0.85" stroke-opacity="0.85"/>
<circle cx="562.36" cy="356.64" r="1.45" fill="#0000ff" fill-opacity="0.3" stroke="#0000ff" stroke-width="0.85" stroke-opacity="0.85"/>
<circle cx="556.12" cy="358.87" r="1.45" fill="#0000ff" fill-opacity="0.3" stroke="#0000ff" stroke-width="0.85" stroke-opacity="0.85"/>
<circle cx="548.77" cy="358.87" r="1.45" fill="#0000ff" fill-opacity="0.3" stroke="#0000ff" stroke-width="0.85" stroke-opacity="0.85"/>
<circle cx="555.98" cy="361.04" r="1.45" fill="#0000ff" fill-opacity="0.3" stroke="#0000ff" stroke-width="0.85" stroke-opacity="0.85"/>
<circle cx="553.96" cy="361.04" r="1.45" fill="#0000ff" fill-opacity="0.3" stroke="#0000ff" stroke-width="0.85" stroke-opacity="0.85"/>
<circle cx="570.50" cy="273.40" r="1.45" fill="#ff0000" fill-opacity="0.3" stroke="#ff0000" stroke-width="0.85" stroke-opacity="0.85"/>
<circle cx="582.70" cy="273.40" r="1.45" fill="#ff0000" fill-opacity="0.3" stroke="#ff0000" stroke-width="0.85" stroke-opacity="0.85"/>
<circle cx="592.00" cy="282.00" r="1.45" fill="#ff0000" fill-opacity="0.3" stroke="#ff0000" stroke-width="0.85" stroke-opacity="0.85"/>
<circle cx="583.99" cy="282.00" r="1.45" fill="#ff0000" fill-opacity="0.3" stroke="#ff0000" stroke-width="0.85" stroke-opacity="0.85"/>
<circle cx="585.31" cy="287.80" r="1.45" fill="#ff0000" fill-opacity="0.3" stroke="#ff0000" stroke-width="0.85" stroke-opacity="0.85"/>
<circle cx="586.66" cy="287.80" r="1.45" fill="#ff0000" fill-opacity="0.3" stroke="#ff0000" stroke-width="0.85" stroke-opacity="0.85"/>
<circle cx="591.55" cy="288.60" r="1.45" fill="#ff0000" fill-opacity="0.3" stroke="#ff0000" stroke-width="0.85" stroke-opacity="0.85"/>
<circle cx="570.11" cy="288.60" r="1.45" fill="#ff0000" fill-opacity="0.3" stroke="#ff0000" stroke-width="0.85" stroke-opacity="0.85"/>
<circle cx="583.38" cy="290.00" r="1.45" fill="#ff0000" fill-opacity="0.3" stroke="#ff0000" stroke-width="0.85" stroke-opacity="0.85"/>
<circle cx="586.15" cy="290.00" r="1.45" fill="#ff0000" fill-opacity="0.3" stroke="#ff0000" stroke-width="0.85" stroke-opacity="0.85"/>
<circle cx="575.35" cy="291.20" r="1.45" fill="#ff0000" fill-opacity="0.3" stroke="#ff0000" stroke-width="0.85" stroke-opacity="0.85"/>
<circle cx="578.59" cy="291.20" r="1.45" fill="#ff0000" fill-opacity="0.3" stroke="#ff0000" stroke-width="0.85" stroke-opacity="0.85"/>
<circle cx="570.73" cy="303.50" r="1.45" fill="#ff0000" fill-opacity="0.3" stroke="#ff0000" stroke-width="0.85" stroke-opacity="0.85"/>
<circle cx="573.98" cy="303.50" r="1.45" fill="#ff0000" fill-opacity="0.3" stroke="#ff0000" stroke-width="0.85" stroke-opacity="0.85"/>
<circle cx="578.02" cy="305.00" r="1.45" fill="#ff0000" fill-opacity="0.3" stroke="#ff0000" stroke-width="0.85" stroke-opacity="0.85"/>
<circle cx="571.81" cy="305.00" r="1.45" fill="#ff0000" fill-opacity="0.3" stroke="#ff0000" stroke-width="0.85" stroke-opacity="0.85"/>
<circle cx="575.22" cy="306.50" r="1.45" fill="#ff0000" fill-opacity="0.3" stroke="#ff0000" stroke-width="0.85" stroke-opacity="0.85"/>
<circle cx="589.89" cy="306.50" r="1.45" fill="#ff0000" fill-opacity="0.3" stroke="#ff0000" stroke-width="0.85" stroke-opacity="0.85"/>
<circle cx="581.92" cy="313.12" r="1.45" fill="#ff0000" fill-opacity="0.3" stroke="#ff0000" stroke-width="0.85" stroke-opacity="0.85"/>
<circle cx="580.98" cy="313.12" r="1.45" fill="#ff0000" fill-opacity="0.3" stroke="#ff0000" stroke-width="0.85" stroke-opacity="0.85"/>
<circle cx="591.26" cy="315.17" r="1.45" fill="#ff0000" fill-opacity="0.3" stroke="#ff0000" stroke-width="0.85" stroke-opacity="0.85"/>
<circle cx="582.32" cy="315.17" r="1.45" fill="#ff0000" fill-opacity="0.3" stroke="#ff0000" stroke-width="0.85" stroke-opacity="0.85"/>
<circle cx="591.89" cy="317.21" r="1.45" fill="#ff0000" fill-opacity="0.3" stroke="#ff0000" stroke-width="0.85" stroke-opacity="0.85"/>
<circle cx="583.89" cy="317.21" r="1.45" fill="#ff0000" fill-opacity="0.3" stroke="#ff0000" stroke-width="0.85" stroke-opacity="0.85"/>
<circle cx="587.73" cy="319.26" r="1.45" fill="#ff0000" fill-opacity="0.3" stroke="#ff0000" stroke-width="0.85" stroke-opacity="0.85"/>
<circle cx="571.31" cy="319.26" r="1.45" fill="#ff0000" fill-opacity="0.3" stroke="#ff0000" stroke-width="0.85" stroke-opacity="0.85"/>
<circle cx="582.98" cy="321.30" r="1.45" fill="#ff0000" fill-opacity="0.3" stroke="#ff0000" stroke-width="0.85" stroke-opacity="0.85"/>
<circle cx="586.61" cy="321.30" r="1.45" fill="#ff0000" fill-opacity="0.3" stroke="#ff0000" stroke-width="0.85" stroke-opacity="0.85"/>
<circle cx="570.61" cy="323.34" r="1.45" fill="#ff0000" fill-opacity="0.3" stroke="#ff0000" stroke-width="0.85" stroke-opacity="0.85"/>
<circle cx="590.44" cy="323.34" r="1.45" fill="#ff0000" fill-opacity="0.3" stroke="#ff0000" stroke-width="0.85" stroke-opacity="0.85"/>
<circle cx="573.18" cy="325.39" r="1.45" fill="#ff0000" fill-opacity="0.3" stroke="#ff0000" stroke-width="0.85" stroke-opacity="0.85"/>
<circle cx="580.17" cy="325.39" r="1.45" fill="#ff0000" fill-opacity="0.3" stroke="#ff0000" stroke-width="0.85" stroke-opacity="0.85"/>
<circle cx="573.39" cy="327.43" r="1.45" fill="#ff0000" fill-opacity="0.3" stroke="#ff0000" stroke-width="0.85" stroke-opacity="0.85"/>
<circle cx="580.70" cy="327.43" r="1.45" fill="#ff0000" fill-opacity="0.3" stroke="#ff0000" stroke-width="0.85" stroke-opacity="0.85"/>
<circle cx="583.29" cy="329.48" r="1.45" fill="#ff0000" fill-opacity="0.3" stroke="#ff0000" stroke-width="0.85" stroke-opacity="0.85"/>
<circle cx="570.91" cy="329.48" r="1.45" fill="#ff0000" fill-opacity="0.3" stroke="#ff0000" stroke-width="0.85" stroke-opacity="0.85"/>
<circle cx="590.77" cy="331.46" r="1.45" fill="#ff0000" fill-opacity="0.3" stroke="#ff0000" stroke-width="0.85" stroke-opacity="0.85"/>
<circle cx="579.02" cy="331.46" r="1.45" fill="#ff0000" fill-opacity="0.3" stroke="#ff0000" stroke-width="0.85" stroke-opacity="0.85"/>
<circle cx="581.40" cy="333.38" r="1.45" fill="#ff0000" fill-opacity="0.3" stroke="#ff0000" stroke-width="0.85" stroke-opacity="0.85"/>
<circle cx="582.99" cy="333.38" r="1.45" fill="#ff0000" fill-opacity="0.3" stroke="#ff0000" stroke-width="0.85" stroke-opacity="0.85"/>
<circle cx="577.79" cy="335.31" r="1.45" fill="#ff0000" fill-opacity="0.3" stroke="#ff0000" stroke-width="0.85" stroke-opacity="0.85"/>
<circle cx="576.00" cy="335.31" r="1.45" fill="#ff0000" fill-opacity="0.3" stroke="#ff0000" stroke-width="0.85" stroke-opacity="0.85"/>
<circle cx="584.27" cy="337.23" r="1.45" fill="#ff0000" fill-opacity="0.3" stroke="#ff0000" stroke-width="0.85" stroke-opacity="0.85"/>
<circle cx="582.16" cy="337.23" r="1.45" fill="#ff0000" fill-opacity="0.3" stroke="#ff0000" stroke-width="0.85" stroke-opacity="0.85"/>
<circle cx="575.95" cy="339.15" r="1.45" fill="#ff0000" fill-opacity="0.3" stroke="#ff0000" stroke-width="0.85" stroke-opacity="0.85"/>
<circle cx="585.65" cy="339.15" r="1.45" fill="#ff0000" fill-opacity="0.3" stroke="#ff0000" stroke-width="0.85" stroke-opacity="0.85"/>
<circle cx="576.23" cy="341.07" r="1.45" fill="#ff0000" fill-opacity="0.3" stroke="#ff0000" stroke-width="0.85" stroke-opacity="0.85"/>
<circle cx="569.91" cy="341.07" r="1.45" fill="#ff0000" fill-opacity="0.3" stroke="#ff0000" stroke-width="0.85" stroke-opacity="0.85"/>
<circle cx="575.09" cy="342.99" r="1.45" fill="#ff0000" fill-opacity="0.3" stroke="#ff0000" stroke-width="0.85" stroke-opacity="0.85"/>
<circle cx="570.56" cy="342.99" r="1.45" fill="#ff0000" fill-opacity="0.3" stroke="#ff0000" stroke-width="0.85" stroke-opacity="0.85"/>
<circle cx="573.11" cy="344.92" r="1.45" fill="#ff0000" fill-opacity="0.3" stroke="#ff0000" stroke-width="0.85" stroke-opacity="0.85"/>
<circle cx="586.50" cy="344.92" r="1.45" fill="#ff0000" fill-opacity="0.3" stroke="#ff0000" stroke-width="0.85" stroke-opacity="0.85"/>
<circle cx="578.34" cy="346.84" r="1.45" fill="#ff0000" fill-opacity="0.3" stroke="#ff0000" stroke-width="0.85" stroke-opacity="0.85"/>
<circle cx="589.70" cy="346.84" r="1.45" fill="#ff0000" fill-opacity="0.3" stroke="#ff0000" stroke-width="0.85" stroke-opacity="0.85"/>
<circle cx="586.36" cy="348.45" r="1.45" fill="#ff0000" fill-opacity="0.3" stroke="#ff0000" stroke-width="0.85" stroke-opacity="0.85"/>
<circle cx="570.72" cy="348.45" r="1.45" fill="#ff0000" fill-opacity="0.3" stroke="#ff0000" stroke-width="0.85" stroke-opacity="0.85"/>
<circle cx="591.75" cy="349.75" r="1.45" fill="#ff0000" fill-opacity="0.3" stroke="#ff0000" stroke-width="0.85" stroke-opacity="0.85"/>
<circle cx="590.76" cy="349.75" r="1.45" fill="#ff0000" fill-opacity="0.3" stroke="#ff0000" stroke-width="0.85" stroke-opacity="0.85"/>
<circle cx="571.25" cy="351.05" r="1.45" fill="#ff0000" fill-opacity="0.3" stroke="#ff0000" stroke-width="0.85" stroke-opacity="0.85"/>
<circle cx="589.88" cy="351.05" r="1.45" fill="#ff0000" fill-opacity="0.3" stroke="#ff0000" stroke-width="0.85" stroke-opacity="0.85"/>
<circle cx="579.22" cy="352.35" r="1.45" fill="#ff0000" fill-opacity="0.3" stroke="#ff0000" stroke-width="0.85" stroke-opacity="0.85"/>
<circle cx="580.30" cy="352.35" r="1.45" fill="#ff0000" fill-opacity="0.3" stroke="#ff0000" stroke-width="0.85" stroke-opacity="0.85"/>
<circle cx="591.40" cy="353.65" r="1.45" fill="#ff0000" fill-opacity="0.3" stroke="#ff0000" stroke-width="0.85" stroke-opacity="0.85"/>
<circle cx="575.06" cy="353.65" r="1.45" fill="#ff0000" fill-opacity="0.3" stroke="#ff0000" stroke-width="0.85" stroke-opacity="0.85"/>
<circle cx="581.32" cy="354.95" r="1.45" fill="#ff0000" fill-opacity="0.3" stroke="#ff0000" stroke-width="0.85" stroke-opacity="0.85"/>
<circle cx="590.59" cy="354.95" r="1.45" fill="#ff0000" fill-opacity="0.3" stroke="#ff0000" stroke-width="0.85" stroke-opacity="0.85"/>
<circle cx="585.79" cy="356.25" r="1.45" fill="#ff0000" fill-opacity="0.3" stroke="#ff0000" stroke-width="0.85" stroke-opacity="0.85"/>
<circle cx="580.09" cy="356.25" r="1.45" fill="#ff0000" fill-opacity="0.3" stroke="#ff0000" stroke-width="0.85" stroke-opacity="0.85"/>
<circle cx="591.53" cy="357.55" r="1.45" fill="#ff0000" fill-opacity="0.3" stroke="#ff0000" stroke-width="0.85" stroke-opacity="0.85"/>
<circle cx="587.89" cy="357.55" r="1.45" fill="#ff0000" fill-opacity="0.3" stroke="#ff0000" stroke-width="0.85" stroke-opacity="0.85"/>
<circle cx="583.12" cy="358.85" r="1.45" fill="#ff0000" fill-opacity="0.3" stroke="#ff0000" stroke-width="0.85" stroke-opacity="0.85"/>
<circle cx="572.18" cy="358.85" r="1.45" fill="#ff0000" fill-opacity="0.3" stroke="#ff0000" stroke-width="0.85" stroke-opacity="0.85"/>
<rect x="409.2" y="203.9" width="91.8" height="15.4" fill="#d9d9d9" stroke="#666666" stroke-width="1" />
<text x="0" y="0" font-size="8" fill="#1a1a1a" text-anchor="middle" transform="translate(454.9 215.1) scale(1 1.16)" >Cecal</text>
<rect x="409.2" y="219.3" width="91.8" height="164.2" fill="none" stroke="#666666" stroke-width="1" />
<rect x="506.8" y="203.9" width="91.3" height="15.4" fill="#d9d9d9" stroke="#666666" stroke-width="1" />
<text x="0" y="0" font-size="8" fill="#1a1a1a" text-anchor="middle" transform="translate(552.25 215.1) scale(1 1.16)" >Fecal</text>
<rect x="506.8" y="219.3" width="91.3" height="164.2" fill="none" stroke="#666666" stroke-width="1" />
<line x1="406.3" y1="251.19" x2="409.2" y2="251.19" stroke="#444444" stroke-width="0.9" />
<text x="0" y="0" font-size="7.8" fill="#4d4d4d" text-anchor="end" transform="translate(404.2 254.59) scale(1 1.16)" >0.4</text>
<line x1="406.3" y1="285.66" x2="409.2" y2="285.66" stroke="#444444" stroke-width="0.9" />
<text x="0" y="0" font-size="7.8" fill="#4d4d4d" text-anchor="end" transform="translate(404.2 289.06) scale(1 1.16)" >0.3</text>
<line x1="406.3" y1="320.13" x2="409.2" y2="320.13" stroke="#444444" stroke-width="0.9" />
<text x="0" y="0" font-size="7.8" fill="#4d4d4d" text-anchor="end" transform="translate(404.2 323.53) scale(1 1.16)" >0.2</text>
<line x1="406.3" y1="354.6" x2="409.2" y2="354.6" stroke="#444444" stroke-width="0.9" />
<text x="0" y="0" font-size="7.8" fill="#4d4d4d" text-anchor="end" transform="translate(404.2 358) scale(1 1.16)" >0.1</text>
<text x="0" y="0" font-size="9.3" fill="#000" text-anchor="middle" transform="translate(388.4 301.05) rotate(-90) scale(1 1.16)" >Jensen-Shannon Divergence</text>
<text x="0" y="0" font-size="14.6" fill="#000" text-anchor="start" font-weight="bold" transform="translate(331.9 205) scale(1 1.07)" >D</text>
<text x="0" y="0" font-size="9" fill="#000" text-anchor="start" transform="translate(612.6 281.9) scale(1 1.16)" >Type</text>
<g stroke="#b3b3b3" fill="none">
<line x1="620.00" y1="286.60" x2="620.00" y2="289.10" stroke-width="0.7"/>
<line x1="620.00" y1="296.20" x2="620.00" y2="298.70" stroke-width="0.7"/>
<rect x="614.30" y="289.10" width="11.30" height="7.10" stroke-width="0.7"/>
<line x1="614.30" y1="292.50" x2="625.60" y2="292.50" stroke-width="1.0"/>
</g>
<circle cx="620.00" cy="292.50" r="1.45" fill="#999999" fill-opacity="0.3" stroke="#999999" stroke-width="0.85" stroke-opacity="0.8"/>
<g stroke="#0000ff" fill="none">
<line x1="620.00" y1="301.00" x2="620.00" y2="303.50" stroke-width="0.7"/>
<line x1="620.00" y1="310.60" x2="620.00" y2="313.10" stroke-width="0.7"/>
<rect x="614.30" y="303.50" width="11.30" height="7.10" stroke-width="0.7"/>
<line x1="614.30" y1="307.00" x2="625.60" y2="307.00" stroke-width="1.0"/>
</g>
<circle cx="620.00" cy="307.00" r="1.45" fill="#0000ff" fill-opacity="0.3" stroke="#0000ff" stroke-width="0.85" stroke-opacity="0.8"/>
<g stroke="#ff0000" fill="none">
<line x1="620.00" y1="315.30" x2="620.00" y2="317.80" stroke-width="0.7"/>
<line x1="620.00" y1="324.90" x2="620.00" y2="327.40" stroke-width="0.7"/>
<rect x="614.30" y="317.80" width="11.30" height="7.10" stroke-width="0.7"/>
<line x1="614.30" y1="321.30" x2="625.60" y2="321.30" stroke-width="1.0"/>
</g>
<circle cx="620.00" cy="321.30" r="1.45" fill="#ff0000" fill-opacity="0.3" stroke="#ff0000" stroke-width="0.85" stroke-opacity="0.8"/>
<text x="0" y="0" font-size="7.5" fill="#000" text-anchor="start" transform="translate(629.5 295.9) scale(1 1.16)" >between</text>
<text x="0" y="0" font-size="7.5" fill="#000" text-anchor="start" transform="translate(629.5 310.5) scale(1 1.16)" >SERT +/+ within</text>
<text x="0" y="0" font-size="7.5" fill="#000" text-anchor="start" transform="translate(629.5 325) scale(1 1.16)" >SERT -/- within</text>
</svg>
</body></html>
